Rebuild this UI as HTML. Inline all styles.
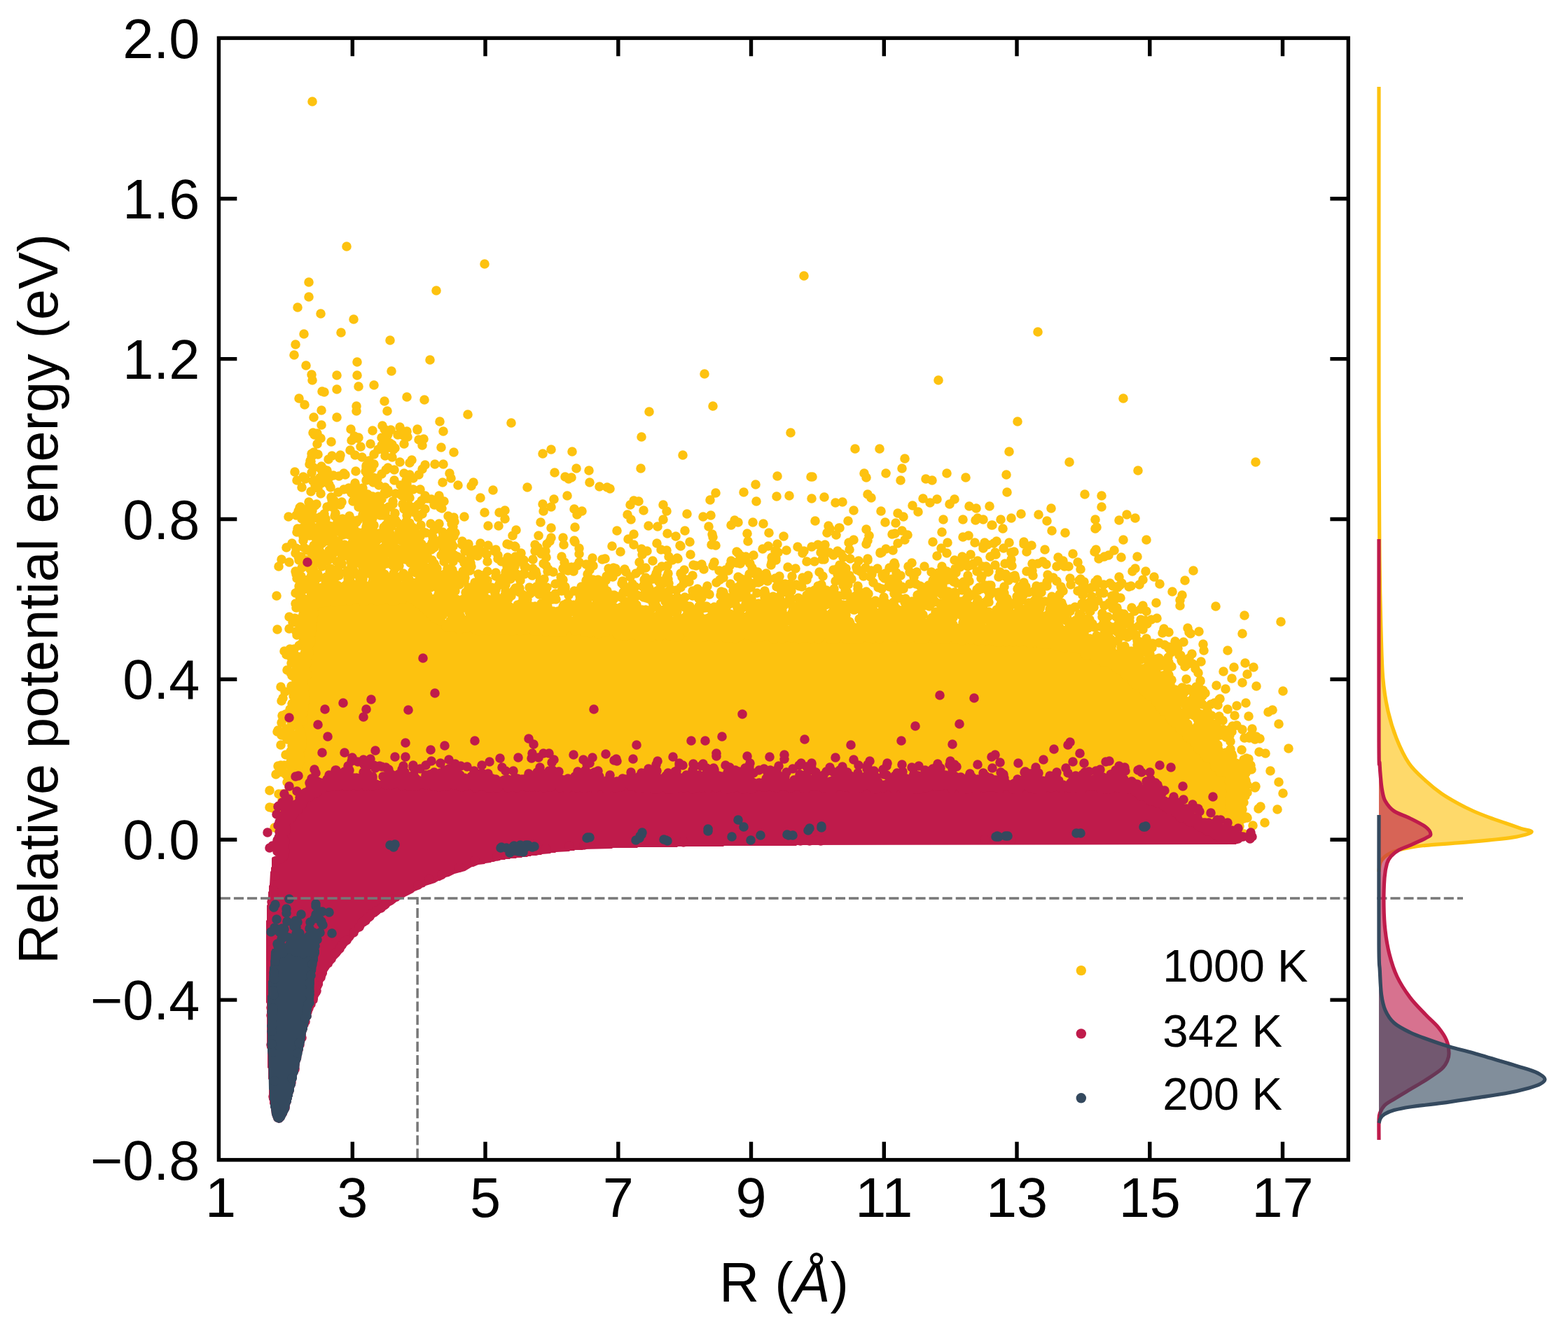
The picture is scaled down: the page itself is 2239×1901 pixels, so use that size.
<!DOCTYPE html>
<html lang="en"><head><meta charset="utf-8"><title>Relative potential energy vs R</title>
<style>html,body{margin:0;padding:0;background:#fff}svg{display:block}text{font-family:'Liberation Sans', sans-serif;fill:#000}</style></head><body>
<svg width="2239" height="1901" viewBox="0 0 2239 1901" role="img" aria-label="Scatter plot of relative potential energy versus distance R at 1000 K, 342 K and 200 K with marginal density curves">
<rect width="2239" height="1901" fill="#fff"/>
<g fill="#FDC20F" stroke="#FDC20F" stroke-width="13.6" stroke-linecap="round" stroke-linejoin="round">
<path stroke="none" d="M442 867 442 870 441 871 441 878 440 879 440 885 439 886 439 892 438 893 438 899 437 900 437 905 436 906 435 926 434 927 434 935 433 936 433 944 432 945 432 956 431 957 431 965 430 966 430 976 429 977 429 987 428 988 428 1002 427 1003 427 1017 426 1018 426 1031 425 1032 425 1040 424 1041 424 1057 423 1058 423 1066 422 1067 422 1084 421 1085 421 1093 420 1094 420 1102 419 1103 419 1117 418 1118 418 1126 417 1127 417 1134 416 1135 415 1150 414 1151 413 1159 412 1160 412 1166 410 1171 409 1187 408 1188 408 1200 409 1202 411 1202 412 1203 1757 1203 1758 1202 1760 1202 1761 1200 1761 1162 1762 1161 1762 1151 1763 1150 1763 1142 1764 1141 1764 1134 1765 1133 1765 1128 1766 1127 1766 1125 1762 1117 1756 1110 1753 1104 1748 1099 1748 1098 1724 1073 1724 1072 1715 1063 1715 1062 1701 1049 1697 1043 1684 1030 1684 1029 1667 1011 1667 1010 1644 987 1643 987 1631 975 1621 968 1614 961 1608 958 1597 949 1582 940 1580 940 1569 934 1567 934 1564 932 1562 932 1559 930 1552 928 1547 925 1545 925 1544 924 1539 923 1536 921 1530 920 1523 917 1519 917 1518 916 1514 916 1513 915 1504 914 1503 913 1484 912 1483 911 1456 910 1455 909 1424 909 1423 908 1346 907 1345 906 1281 906 1280 905 1186 905 1185 904 976 904 975 903 927 903 926 902 907 902 906 901 900 901 899 900 888 900 887 899 883 899 882 898 853 897 852 896 827 896 826 895 760 895 759 894 708 894 707 893 678 893 677 892 666 892 665 891 648 890 647 889 643 889 636 885 631 884 619 872 612 868 605 861 601 855 599 855 595 853 591 853 590 852 584 852 583 851 528 850 527 851 485 851 484 852 466 852 465 853 457 853 450 856 446 860 445 860 444 864Z"/>
<path fill="none" d="M398 809h0m-3 42h0m1 48h0m1 144h0m-1 2h0m1 49h0m2 5h0m-5 7h0m-9 23h0m13 5h0m-13 19h0m4 1h0m3 1h0m7 22h0m-7 5h0m2 0h0m31 -743h0m9 38h0m-12 15h0m-2 15h0m17 15h0m-10 47h0m8 9h0m-14 96h0m12 7h0m3 3h0m-12 2h0m7 10h0m-2 28h0m-1 1h0m-2 5h0m13 0h0m-1 2h0m1 1h0m-16 3h0m13 1h0m-24 1h0m19 1h0m0 2h0m7 5h0m-2 3h0m-11 6h0m4 0h0m4 0h0m1 0h0m-10 5h0m9 6h0m0 6h0m-16 4h0m-8 6h0m25 0h0m-11 1h0m16 2h0m0 1h0m-17 4h0m4 5h0m4 0h0m-28 4h0m25 1h0m8 0h0m2 0h0m1 0h0m-4 2h0m-21 1h0m25 1h0m-4 3h0m-2 2h0m7 0h0m-7 1h0m-1 1h0m-9 5h0m1 4h0m7 3h0m-6 3h0m3 2h0m9 6h0m-7 1h0m8 1h0m-10 1h0m9 3h0m-9 1h0m12 0h0m-5 1h0m-12 5h0m6 4h0m0 1h0m4 2h0m3 4h0m-13 4h0m7 0h0m-5 3h0m7 2h0m-8 1h0m15 2h0m-2 1h0m-3 1h0m0 5h0m5 3h0m1 0h0m-26 1h0m8 2h0m3 1h0m6 2h0m4 0h0m-2 2h0m-14 1h0m7 0h0m8 1h0m1 0h0m3 0h0m-9 5h0m4 0h0m1 0h0m1 0h0m3 0h0m2 0h0m-8 1h0m-18 2h0m13 3h0m1 0h0m-4 1h0m15 1h0m-14 4h0m11 0h0m1 7h0m-3 2h0m4 3h0m-7 1h0m2 1h0m-5 1h0m6 1h0m2 2h0m-21 2h0m6 0h0m17 0h0m-19 1h0m-12 2h0m13 1h0m17 0h0m-18 2h0m17 0h0m-26 2h0m26 0h0m4 1h0m-20 1h0m7 1h0m9 0h0m4 0h0m-23 1h0m4 1h0m16 1h0m-2 1h0m-4 1h0m-4 1h0m9 0h0m-9 1h0m-2 1h0m15 0h0m-23 1h0m15 2h0m1 0h0m1 0h0m4 1h0m-11 1h0m7 3h0m-10 1h0m6 0h0m-5 1h0m-14 1h0m21 2h0m5 0h0m-6 1h0m-15 1h0m7 0h0m15 3h0m2 0h0m-22 1h0m8 0h0m4 0h0m4 0h0m2 1h0m-4 1h0m-9 2h0m2 4h0m9 1h0m-4 1h0m2 2h0m-8 2h0m-7 1h0m6 0h0m9 0h0m-30 1h0m33 0h0m-8 1h0m8 1h0m1 0h0m-9 2h0m-19 3h0m12 0h0m15 0h0m-8 1h0m2 0h0m4 1h0m-12 1h0m15 1h0m-2 1h0m-14 1h0m-15 3h0m26 0h0m5 0h0m-1 1h0m-1 2h0m-31 1h0m33 1h0m-12 1h0m-1 1h0m-5 1h0m4 3h0m11 1h0m2 0h0m-10 2h0m10 0h0m-20 2h0m4 0h0m16 0h0m-7 1h0m-13 3h0m19 1h0m-25 2h0m4 0h0m1 1h0m2 0h0m11 0h0m-23 1h0m22 0h0m-17 1h0m19 1h0m-1 1h0m-8 1h0m-14 1h0m22 0h0m3 1h0m-3 1h0m6 1h0m1 0h0m-17 1h0m-14 1h0m21 0h0m4 0h0m-10 4h0m5 0h0m-13 5h0m5 1h0m14 1h0m1 3h0m1 3h0m-28 1h0m8 0h0m11 0h0m4 2h0m1 1h0m-8 1h0m13 0h0m-9 1h0m-12 1h0m17 0h0m-2 1h0m3 0h0m-12 1h0m11 0h0m-1 1h0m5 0h0m-6 2h0m-24 3h0m16 1h0m14 0h0m-5 1h0m0 1h0m1 0h0m3 1h0m-2 1h0m-1 2h0m0 1h0m-12 1h0m12 3h0m-3 1h0m-16 1h0m20 0h0m-9 4h0m8 0h0m-7 1h0m2 0h0m5 1h0m-11 2h0m8 0h0m2 0h0m3 0h0m-11 1h0m-3 1h0m6 0h0m-1 1h0m-5 1h0m6 2h0m3 0h0m-23 1h0m5 0h0m20 0h0m-3 2h0m2 0h0m-23 1h0m18 0h0m3 1h0m-1 1h0m-6 3h0m2 0h0m0 1h0m6 0h0m2 0h0m-23 1h0m16 0h0m2 0h0m-15 1h0m10 0h0m7 1h0m-6 1h0m-8 1h0m13 0h0m4 1h0m-7 2h0m2 1h0m0 1h0m6 1h0m-12 1h0m5 0h0m-7 2h0m10 0h0m-13 1h0m11 3h0m-8 4h0m3 1h0m3 3h0m-1 1h0m2 0h0m3 0h0m1 1h0m-2 1h0m2 2h0m-22 1h0m3 0h0m15 2h0m-6 1h0m6 0h0m3 0h0m-7 2h0m2 1h0m-5 1h0m9 0h0m2 0h0m-21 2h0m13 0h0m-13 2h0m8 0h0m5 0h0m-12 3h0m10 0h0m1 0h0m0 3h0m7 0h0m-13 1h0m-8 2h0m5 0h0m4 0h0m9 0h0m-13 1h0m13 0h0m2 1h0m-17 2h0m12 1h0m-12 2h0m-4 1h0m18 1h0m-11 1h0m1 0h0m9 1h0m-7 1h0m7 0h0m-1 3h0m-12 2h0m8 1h0m-12 1h0m7 0h0m-7 3h0m1 8h0m-1 3h0m6 1h0m40 -1043h0m-5 258h0m0 21h0m17 24h0m-13 87h0m1 8h0m14 16h0m3 1h0m-4 26h0m-11 10h0m11 11h0m-12 11h0m6 1h0m-4 2h0m9 5h0m15 5h0m-20 3h0m-5 12h0m-3 2h0m9 1h0m20 2h0m-29 1h0m24 4h0m-26 2h0m1 1h0m-2 4h0m17 3h0m-11 2h0m14 2h0m-3 1h0m8 1h0m-2 2h0m-20 1h0m21 0h0m10 4h0m-19 3h0m13 0h0m-12 1h0m2 1h0m-9 2h0m-4 1h0m12 3h0m11 2h0m-20 1h0m22 3h0m-18 1h0m-10 5h0m14 3h0m15 5h0m1 4h0m3 1h0m-36 2h0m3 3h0m8 0h0m21 1h0m-23 1h0m17 2h0m9 1h0m-36 1h0m5 0h0m1 3h0m33 4h0m-16 1h0m15 3h0m-20 1h0m-15 2h0m9 0h0m6 1h0m3 0h0m4 0h0m0 5h0m-22 1h0m15 1h0m9 3h0m1 0h0m2 0h0m-9 1h0m13 0h0m-24 2h0m9 0h0m20 1h0m-27 2h0m12 0h0m9 0h0m-30 1h0m8 2h0m24 0h0m1 2h0m-22 1h0m-12 2h0m4 0h0m26 1h0m-9 3h0m-11 3h0m27 0h0m-10 1h0m8 0h0m-20 1h0m17 0h0m-14 2h0m16 1h0m2 0h0m-30 2h0m30 0h0m-25 1h0m3 0h0m21 3h0m-32 1h0m30 0h0m-23 2h0m18 0h0m-26 1h0m7 1h0m6 0h0m-8 1h0m21 0h0m6 1h0m-30 2h0m17 0h0m-4 1h0m8 0h0m-11 1h0m17 3h0m-13 1h0m-12 1h0m14 0h0m2 0h0m6 0h0m-24 2h0m20 0h0m-20 3h0m4 1h0m10 2h0m0 2h0m-19 1h0m31 2h0m-29 1h0m5 2h0m0 1h0m23 0h0m1 0h0m-1 3h0m-26 1h0m9 0h0m-6 2h0m29 0h0m-6 1h0m-27 1h0m5 0h0m5 0h0m12 0h0m7 1h0m-25 1h0m5 0h0m-13 2h0m36 0h0m-10 1h0m-1 1h0m3 2h0m0 1h0m-26 1h0m9 3h0m-2 1h0m-3 1h0m14 0h0m6 0h0m13 0h0m-35 1h0m15 0h0m2 1h0m-16 2h0m27 0h0m-23 1h0m12 1h0m-10 1h0m16 0h0m5 1h0m-16 1h0m-10 1h0m2 0h0m8 0h0m19 0h0m1 1h0m-32 1h0m5 0h0m18 0h0m-23 1h0m5 0h0m4 0h0m-5 1h0m3 0h0m3 0h0m17 1h0m-9 1h0m11 0h0m5 0h0m-16 1h0m10 1h0m-3 1h0m5 0h0m-33 1h0m13 0h0m-1 1h0m14 0h0m10 0h0m-26 1h0m3 0h0m6 0h0m-8 1h0m-4 5h0m0 2h0m-8 1h0m6 2h0m-6 1h0m6 1h0m2 3h0m-6 1h0m-2 4h0m2 0h0m1 1h0m-2 1h0m3 1h0m0 1h0m2 0h0m1 0h0m-1 5h0m-6 3h0m5 0h0m-4 3h0m5 1h0m-2 5h0m-1 1h0m1 2h0m-3 4h0m0 2h0m-1 1h0m4 1h0m-3 1h0m2 0h0m1 0h0m-1 1h0m1 0h0m-3 5h0m0 11h0m54 -580h0m10 104h0m-18 19h0m23 42h0m-29 19h0m29 0h0m2 16h0m-31 4h0m28 24h0m0 7h0m-28 9h0m20 17h0m5 10h0m6 2h0m-1 1h0m-9 3h0m13 9h0m-15 5h0m-14 7h0m21 0h0m10 3h0m-32 1h0m23 19h0m-17 3h0m2 2h0m-9 2h0m23 10h0m1 4h0m-10 3h0m20 0h0m-27 2h0m10 3h0m-18 1h0m25 0h0m-6 1h0m10 0h0m1 0h0m-7 3h0m0 2h0m10 1h0m0 2h0m-12 4h0m-16 1h0m23 1h0m-25 3h0m26 3h0m4 0h0m2 11h0m-19 2h0m-10 4h0m0 1h0m12 0h0m10 1h0m-29 1h0m14 0h0m10 0h0m3 2h0m-27 1h0m5 0h0m3 0h0m16 0h0m-18 1h0m13 1h0m-13 5h0m4 0h0m-2 2h0m16 0h0m-24 3h0m16 1h0m15 1h0m-1 1h0m-19 1h0m9 0h0m2 0h0m-15 1h0m10 0h0m9 1h0m6 0h0m1 2h0m-10 1h0m11 0h0m-11 1h0m6 0h0m6 2h0m-34 2h0m25 1h0m1 0h0m-6 1h0m-22 1h0m2 1h0m9 1h0m26 0h0m-35 1h0m33 3h0m-29 1h0m12 0h0m14 0h0m-19 1h0m17 1h0m1 0h0m5 0h0m-31 1h0m16 0h0m13 0h0m-7 1h0m-17 1h0m27 0h0m-30 1h0m26 0h0m-19 1h0m2 0h0m14 0h0m-13 1h0m3 0h0m12 0h0m-25 1h0m26 0h0m-20 1h0m15 0h0m-17 1h0m5 0h0m1 1h0m15 0h0m-5 1h0m1 2h0m4 1h0m-32 3h0m20 0h0m6 1h0m-21 1h0m24 0h0m-22 1h0m-1 1h0m15 1h0m16 4h0m-36 2h0m14 2h0m9 0h0m-20 3h0m0 2h0m23 0h0m6 0h0m-30 2h0m14 0h0m-17 1h0m16 3h0m17 1h0m4 0h0m-18 3h0m-4 3h0m12 2h0m-26 1h0m16 0h0m3 0h0m-9 1h0m2 0h0m18 0h0m-10 1h0m-4 1h0m0 1h0m5 0h0m-19 2h0m12 0h0m20 0h0m-20 1h0m21 0h0m-7 1h0m8 0h0m-16 1h0m-21 2h0m36 0h0m-36 1h0m-1 1h0m17 0h0m17 0h0m-33 1h0m15 0h0m4 0h0m4 0h0m-14 1h0m2 0h0m8 0h0m3 0h0m-13 1h0m7 0h0m17 1h0m-12 1h0m1 0h0m2 0h0m-7 1h0m1 0h0m13 0h0m-25 1h0m2 0h0m5 0h0m8 0h0m2 0h0m11 0h0m-29 1h0m-1 1h0m6 0h0m8 0h0m-19 1h0m38 0h0m39 -373h0m2 44h0m-25 20h0m15 23h0m4 14h0m-7 21h0m3 5h0m9 1h0m-26 1h0m22 5h0m-1 2h0m-8 3h0m7 4h0m5 4h0m-28 1h0m16 2h0m9 3h0m-14 3h0m9 1h0m-15 6h0m16 2h0m-23 7h0m7 5h0m-11 2h0m0 2h0m31 1h0m-23 1h0m20 2h0m-29 2h0m2 3h0m21 1h0m-15 5h0m3 0h0m6 1h0m-16 3h0m10 1h0m0 2h0m8 4h0m9 3h0m4 4h0m-5 4h0m5 0h0m-29 2h0m25 0h0m-18 3h0m8 0h0m4 4h0m1 0h0m-25 1h0m2 4h0m3 0h0m3 0h0m10 0h0m0 5h0m-8 1h0m25 0h0m2 0h0m-14 1h0m2 0h0m3 2h0m-17 1h0m-7 1h0m-1 1h0m18 1h0m9 1h0m-7 4h0m5 0h0m-25 2h0m9 2h0m-9 1h0m32 0h0m-27 3h0m-4 3h0m29 1h0m-19 2h0m17 0h0m8 0h0m0 1h0m-36 1h0m36 0h0m-11 1h0m7 0h0m1 1h0m-25 1h0m-9 2h0m4 0h0m24 0h0m-25 3h0m9 0h0m-1 1h0m18 0h0m-10 1h0m16 0h0m-23 1h0m2 0h0m10 0h0m3 2h0m-22 1h0m4 0h0m11 0h0m4 1h0m-26 2h0m5 0h0m15 1h0m-15 1h0m14 0h0m11 0h0m-18 1h0m6 0h0m-6 2h0m-12 1h0m6 0h0m6 0h0m20 1h0m-30 2h0m10 0h0m4 0h0m-15 1h0m4 1h0m11 0h0m-3 1h0m24 0h0m-36 1h0m16 0h0m11 0h0m11 0h0m-30 1h0m6 0h0m16 0h0m-10 1h0m6 1h0m-15 2h0m-12 1h0m14 0h0m8 0h0m-7 1h0m15 0h0m-21 3h0m15 0h0m3 0h0m2 0h0m-18 2h0m-5 1h0m9 0h0m-9 1h0m9 0h0m-14 3h0m22 0h0m6 1h0m-23 4h0m1 0h0m11 1h0m14 0h0m-32 1h0m25 0h0m-18 1h0m0 2h0m5 0h0m13 0h0m-25 1h0m23 0h0m-12 1h0m2 0h0m11 1h0m-22 4h0m21 2h0m-21 1h0m2 0h0m23 0h0m-11 1h0m13 0h0m-2 1h0m-14 2h0m10 0h0m7 0h0m-2 2h0m10 0h0m-25 1h0m13 0h0m2 1h0m-11 2h0m-5 2h0m4 0h0m10 0h0m11 0h0m-9 3h0m-15 1h0m10 0h0m13 0h0m-7 1h0m-26 1h0m6 0h0m19 0h0m-17 1h0m22 0h0m-24 1h0m0 3h0m10 0h0m-13 1h0m15 0h0m-2 1h0m20 0h0m-36 1h0m9 0h0m9 0h0m12 0h0m-23 1h0m-6 1h0m4 0h0m5 0h0m3 1h0m1 0h0m21 0h0m-16 1h0m-12 1h0m1 0h0m1 0h0m0 1h0m3 0h0m4 0h0m1 0h0m-3 1h0m1 0h0m-18 1h0m5 0h0m1 0h0m33 0h0m-21 1h0m3 1h0m2 0h0m7 0h0m-18 1h0m5 0h0m9 1h0m-24 1h0m16 0h0m21 0h0m22 -291h0m-10 43h0m25 3h0m0 1h0m-15 2h0m-6 4h0m-7 1h0m8 1h0m6 2h0m16 4h0m-21 6h0m-17 1h0m4 5h0m-2 2h0m-2 11h0m28 4h0m-17 3h0m14 1h0m-22 10h0m14 5h0m8 2h0m13 0h0m-8 5h0m-27 3h0m17 0h0m1 5h0m-9 2h0m18 6h0m-11 1h0m-2 1h0m1 0h0m3 2h0m-8 1h0m-8 1h0m9 3h0m7 1h0m4 2h0m-24 5h0m0 4h0m14 0h0m23 0h0m-14 2h0m12 0h0m-14 1h0m-3 1h0m3 0h0m8 1h0m-13 2h0m6 5h0m9 0h0m-28 1h0m17 3h0m16 3h0m-32 4h0m15 2h0m-12 2h0m17 0h0m0 3h0m-7 1h0m-2 1h0m10 0h0m3 1h0m-15 4h0m-4 2h0m13 1h0m10 0h0m-3 3h0m-9 1h0m11 0h0m6 0h0m-31 2h0m27 0h0m-34 1h0m9 0h0m-8 3h0m26 0h0m1 1h0m-15 1h0m-13 1h0m20 0h0m5 2h0m7 0h0m-30 1h0m17 1h0m-19 1h0m2 0h0m0 1h0m36 1h0m-10 1h0m-11 1h0m1 0h0m10 0h0m-1 1h0m12 0h0m-32 1h0m25 0h0m-26 1h0m31 0h0m-34 1h0m12 0h0m11 0h0m-26 2h0m12 0h0m25 0h0m-15 2h0m-5 2h0m-4 2h0m11 1h0m-23 2h0m30 0h0m-27 1h0m15 1h0m7 0h0m11 0h0m-29 2h0m26 0h0m-32 1h0m34 0h0m-10 2h0m9 2h0m-34 2h0m9 0h0m-6 4h0m31 1h0m2 0h0m-8 3h0m5 2h0m1 0h0m-33 1h0m14 0h0m2 3h0m-10 2h0m0 2h0m-4 1h0m20 0h0m15 0h0m-19 3h0m9 2h0m-6 2h0m6 1h0m1 0h0m3 0h0m-1 1h0m-27 1h0m7 0h0m3 0h0m3 0h0m15 0h0m2 1h0m-13 1h0m1 0h0m10 2h0m-21 1h0m2 0h0m8 0h0m-13 1h0m2 0h0m3 0h0m10 0h0m8 0h0m-28 1h0m3 0h0m12 0h0m13 1h0m4 1h0m-32 1h0m1 0h0m1 0h0m13 0h0m7 0h0m-26 2h0m23 0h0m4 0h0m6 0h0m-12 1h0m-7 1h0m19 0h0m-12 1h0m1 0h0m-4 1h0m-11 2h0m8 0h0m12 0h0m1 0h0m9 0h0m-30 1h0m8 0h0m17 1h0m-28 1h0m31 1h0m3 3h0m25 -447h0m-9 99h0m-8 57h0m22 31h0m5 14h0m-28 11h0m-2 9h0m27 3h0m-9 24h0m12 0h0m-26 1h0m-4 6h0m29 19h0m-32 10h0m7 9h0m20 0h0m-17 4h0m6 1h0m-14 2h0m21 0h0m11 1h0m-2 1h0m-12 4h0m1 0h0m8 4h0m2 1h0m-24 1h0m-4 7h0m12 14h0m12 0h0m-26 2h0m20 5h0m-1 2h0m-15 3h0m27 0h0m-24 1h0m-8 5h0m18 1h0m14 1h0m-8 5h0m6 0h0m1 0h0m-4 1h0m-10 1h0m-15 2h0m34 0h0m-13 1h0m-9 2h0m2 1h0m1 0h0m-13 1h0m6 0h0m10 0h0m15 0h0m-32 2h0m13 1h0m17 1h0m-30 2h0m-3 2h0m32 2h0m-23 1h0m21 0h0m-19 3h0m-11 2h0m8 0h0m-2 1h0m-5 1h0m16 0h0m17 2h0m-16 2h0m-15 1h0m17 0h0m-19 1h0m20 1h0m-15 2h0m11 0h0m5 2h0m2 1h0m15 0h0m-29 2h0m-9 2h0m7 0h0m1 0h0m10 0h0m3 0h0m-10 3h0m2 0h0m11 0h0m10 1h0m-20 1h0m22 0h0m-34 1h0m10 0h0m4 0h0m-11 1h0m-3 1h0m6 0h0m5 0h0m5 1h0m20 0h0m-29 2h0m20 0h0m-4 2h0m-23 3h0m2 0h0m30 0h0m-10 1h0m3 1h0m-23 1h0m14 0h0m19 0h0m-5 2h0m-18 2h0m10 1h0m-19 1h0m2 1h0m19 0h0m3 0h0m-24 2h0m-5 1h0m1 0h0m36 2h0m0 1h0m-12 1h0m-25 1h0m10 0h0m-6 3h0m-1 2h0m17 0h0m-13 1h0m7 0h0m16 0h0m-27 1h0m5 0h0m16 0h0m-7 1h0m10 0h0m-3 2h0m6 0h0m-1 1h0m9 0h0m-37 3h0m24 0h0m-18 1h0m2 0h0m26 0h0m-1 1h0m-29 1h0m-1 1h0m3 0h0m3 1h0m6 0h0m4 0h0m15 0h0m-21 1h0m9 0h0m-14 1h0m11 0h0m1 0h0m-9 1h0m-3 1h0m1 0h0m8 0h0m-4 1h0m3 1h0m6 0h0m4 0h0m7 0h0m-10 1h0m-10 1h0m3 1h0m14 1h0m-8 1h0m-3 1h0m2 0h0m-3 2h0m3 1h0m2 0h0m4 3h0m9 5h0m-1 3h0m31 -303h0m-20 54h0m-6 30h0m2 7h0m32 6h0m-22 4h0m19 1h0m-33 43h0m23 1h0m-15 1h0m-5 2h0m2 0h0m4 4h0m-4 3h0m2 4h0m-3 7h0m6 2h0m-2 5h0m-8 3h0m20 4h0m-15 3h0m24 1h0m-9 1h0m-13 2h0m25 5h0m0 1h0m-32 1h0m24 0h0m-19 2h0m4 4h0m4 2h0m19 1h0m-30 2h0m17 0h0m-12 4h0m16 2h0m9 0h0m-5 2h0m6 3h0m-31 5h0m4 0h0m17 1h0m8 0h0m-10 1h0m2 0h0m3 0h0m-16 5h0m-10 1h0m22 1h0m2 2h0m-12 1h0m7 3h0m-10 1h0m14 0h0m-11 1h0m26 1h0m-32 2h0m10 1h0m-3 1h0m-8 3h0m24 0h0m10 1h0m-31 4h0m2 0h0m25 0h0m-10 2h0m13 4h0m-11 3h0m-22 1h0m23 1h0m-16 1h0m9 0h0m1 0h0m-1 1h0m13 1h0m-22 2h0m24 0h0m-36 1h0m2 0h0m-2 1h0m8 1h0m28 0h0m-23 1h0m10 0h0m1 1h0m5 1h0m10 0h0m-18 1h0m1 0h0m-3 2h0m-11 1h0m30 0h0m-35 1h0m11 2h0m16 0h0m-17 1h0m17 0h0m-14 1h0m-11 3h0m5 0h0m26 0h0m-30 1h0m32 0h0m-4 1h0m-27 1h0m4 0h0m7 0h0m12 2h0m7 0h0m-28 3h0m7 0h0m17 0h0m-30 1h0m10 1h0m2 1h0m23 0h0m-28 1h0m13 0h0m7 0h0m6 1h0m-19 1h0m1 0h0m-6 1h0m11 0h0m2 0h0m-4 1h0m14 0h0m-33 2h0m7 0h0m10 0h0m19 0h0m-23 1h0m10 0h0m1 0h0m-10 2h0m23 0h0m13 -522h0m12 323h0m-18 11h0m6 21h0m21 0h0m-16 19h0m15 0h0m-26 25h0m11 3h0m-17 6h0m28 0h0m-2 2h0m-16 1h0m5 4h0m-13 1h0m29 0h0m-29 1h0m29 4h0m-15 4h0m20 0h0m-20 14h0m12 2h0m-25 2h0m5 2h0m20 1h0m-22 1h0m-2 4h0m12 1h0m18 2h0m-33 1h0m9 0h0m-10 1h0m5 0h0m2 2h0m5 1h0m20 0h0m-31 2h0m6 0h0m15 1h0m-4 1h0m-2 1h0m12 1h0m-3 1h0m2 2h0m-25 3h0m25 0h0m-16 2h0m-1 3h0m1 1h0m16 0h0m8 1h0m-28 1h0m3 0h0m7 0h0m-12 1h0m2 0h0m8 0h0m3 0h0m0 2h0m-13 1h0m17 1h0m14 0h0m-1 1h0m-32 1h0m10 0h0m21 1h0m-19 1h0m7 0h0m9 0h0m5 0h0m-36 2h0m8 0h0m21 0h0m-1 1h0m-14 1h0m20 0h0m-17 1h0m13 0h0m-6 1h0m11 1h0m-28 1h0m3 0h0m29 0h0m-14 1h0m2 0h0m-16 3h0m1 0h0m-3 3h0m19 0h0m-25 1h0m11 0h0m-13 1h0m4 0h0m4 1h0m24 0h0m5 0h0m-16 1h0m-17 1h0m28 0h0m-1 1h0m-31 1h0m30 0h0m-19 1h0m27 0h0m-21 1h0m4 1h0m17 0h0m-34 1h0m18 0h0m7 0h0m6 0h0m-23 1h0m12 0h0m-6 1h0m4 0h0m-6 1h0m11 0h0m-27 1h0m9 0h0m2 0h0m-12 1h0m33 0h0m-21 1h0m12 0h0m2 0h0m9 0h0m1 0h0m-27 1h0m13 0h0m-21 1h0m19 0h0m3 0h0m-12 1h0m13 0h0m11 0h0m2 0h0m2 0h0m-35 1h0m16 0h0m30 -297h0m23 92h0m-32 33h0m0 12h0m16 16h0m-5 8h0m-8 12h0m3 1h0m8 2h0m1 1h0m8 9h0m-8 5h0m-11 1h0m13 1h0m0 1h0m-2 1h0m-5 1h0m17 0h0m-5 2h0m-13 1h0m-6 6h0m11 0h0m14 0h0m2 1h0m-26 3h0m4 1h0m-7 3h0m5 2h0m21 0h0m-11 1h0m1 0h0m11 0h0m-24 2h0m-5 2h0m21 1h0m2 1h0m-14 1h0m14 2h0m-21 6h0m18 4h0m16 0h0m-20 1h0m6 0h0m-8 3h0m3 0h0m-15 1h0m20 2h0m15 2h0m-11 1h0m-25 1h0m3 0h0m2 0h0m4 1h0m-7 1h0m28 0h0m-26 1h0m0 1h0m22 0h0m2 0h0m-25 1h0m2 0h0m27 1h0m-8 5h0m0 1h0m-3 1h0m-3 1h0m-19 1h0m26 0h0m-19 1h0m12 0h0m19 0h0m-12 1h0m8 0h0m-8 2h0m-23 1h0m29 0h0m-32 3h0m16 0h0m-9 2h0m11 0h0m17 0h0m-24 1h0m-1 1h0m15 0h0m-22 1h0m21 1h0m-18 1h0m11 1h0m17 0h0m-5 1h0m9 0h0m-21 1h0m15 0h0m-5 1h0m-21 1h0m23 0h0m-16 1h0m-9 1h0m23 0h0m12 1h0m-19 1h0m3 0h0m-10 2h0m4 0h0m14 0h0m7 0h0m-33 1h0m8 0h0m9 0h0m-11 1h0m1 0h0m16 0h0m8 0h0m3 0h0m-26 1h0m3 0h0m7 0h0m14 0h0m-25 1h0m2 0h0m-12 1h0m1 0h0m14 0h0m16 0h0m-11 1h0m-14 1h0m25 0h0m-27 1h0m20 0h0m-16 1h0m21 0h0m-21 1h0m3 0h0m10 0h0m44 -259h0m-12 6h0m17 27h0m-1 38h0m-16 7h0m12 4h0m-11 6h0m-4 16h0m15 8h0m-18 11h0m18 3h0m-2 5h0m-4 4h0m-17 1h0m4 4h0m-4 5h0m15 0h0m-6 4h0m7 5h0m-19 3h0m15 6h0m4 3h0m-19 4h0m22 1h0m-18 3h0m17 0h0m8 1h0m-29 3h0m5 0h0m-6 2h0m17 5h0m-6 3h0m22 4h0m-18 1h0m-9 3h0m10 1h0m1 0h0m4 0h0m-11 2h0m5 0h0m-10 4h0m14 0h0m0 3h0m14 0h0m-23 1h0m11 1h0m1 0h0m-1 3h0m8 3h0m5 0h0m-15 1h0m6 0h0m-3 2h0m-9 3h0m7 3h0m1 0h0m-17 1h0m18 0h0m-13 1h0m1 4h0m14 1h0m-15 1h0m21 0h0m7 0h0m-34 1h0m3 0h0m11 0h0m4 1h0m-7 1h0m2 0h0m2 0h0m5 1h0m14 0h0m-22 1h0m23 0h0m-37 1h0m9 0h0m28 0h0m-33 1h0m9 0h0m19 0h0m-17 1h0m13 0h0m-4 2h0m-5 1h0m2 0h0m-15 1h0m21 0h0m-17 1h0m-9 1h0m14 1h0m-14 1h0m11 0h0m19 0h0m-30 1h0m2 1h0m19 0h0m-13 3h0m5 0h0m18 0h0m-22 3h0m11 0h0m-4 1h0m5 0h0m10 0h0m-33 1h0m8 0h0m30 0h0m-37 1h0m19 0h0m-18 1h0m2 0h0m4 0h0m11 1h0m1 0h0m7 0h0m6 0h0m3 0h0m21 -257h0m6 24h0m-16 12h0m9 1h0m-4 2h0m-2 24h0m10 19h0m11 3h0m-7 5h0m-3 18h0m-17 15h0m16 4h0m1 2h0m-16 4h0m22 5h0m0 8h0m-25 4h0m4 8h0m21 0h0m10 3h0m-13 2h0m-8 2h0m-12 2h0m7 3h0m8 1h0m20 4h0m-38 4h0m3 4h0m-3 1h0m36 0h0m1 0h0m-36 6h0m5 3h0m23 0h0m-23 2h0m-5 4h0m18 0h0m15 1h0m-5 3h0m-18 2h0m16 1h0m3 1h0m-1 1h0m9 3h0m-11 1h0m5 0h0m-6 3h0m2 0h0m-18 1h0m-2 1h0m28 0h0m-32 2h0m10 0h0m4 0h0m-15 2h0m1 0h0m4 0h0m10 1h0m3 0h0m-9 1h0m19 1h0m-27 1h0m22 0h0m-21 1h0m7 0h0m24 0h0m-37 1h0m11 0h0m5 0h0m11 0h0m-22 1h0m13 0h0m5 0h0m-10 1h0m12 0h0m-22 1h0m10 0h0m17 0h0m-3 2h0m10 2h0m-32 1h0m22 0h0m1 0h0m9 2h0m2 1h0m-38 1h0m22 0h0m2 0h0m-14 1h0m22 0h0m-29 1h0m-1 1h0m12 0h0m7 0h0m1 0h0m-16 1h0m32 0h0m-18 1h0m7 1h0m-26 2h0m16 0h0m9 0h0m9 0h0m-26 1h0m-6 1h0m7 0h0m6 0h0m-8 2h0m1 0h0m17 0h0m-24 1h0m17 0h0m15 0h0m-34 2h0m5 0h0m29 0h0m-6 1h0m-8 1h0m12 1h0m-29 1h0m30 0h0m3 0h0m4 -231h0m1 17h0m14 6h0m11 1h0m4 2h0m3 82h0m-28 17h0m18 1h0m-4 1h0m-13 9h0m29 3h0m-7 1h0m10 0h0m-37 2h0m31 7h0m-7 2h0m9 1h0m-28 4h0m7 0h0m11 1h0m-3 8h0m-13 1h0m1 0h0m-8 1h0m6 5h0m19 0h0m-14 1h0m-1 3h0m10 0h0m-5 1h0m7 0h0m9 1h0m4 0h0m-30 1h0m6 0h0m23 0h0m-36 1h0m34 0h0m-16 1h0m12 0h0m-7 1h0m-11 2h0m23 0h0m1 0h0m-3 2h0m-9 2h0m1 1h0m-11 1h0m4 0h0m6 0h0m-6 1h0m-12 3h0m16 0h0m7 0h0m-25 1h0m18 0h0m4 0h0m12 1h0m-8 2h0m-12 2h0m-7 1h0m10 0h0m-8 1h0m20 0h0m-26 1h0m23 0h0m5 0h0m-12 1h0m8 2h0m-25 1h0m2 0h0m11 0h0m-12 1h0m9 0h0m16 0h0m4 0h0m3 0h0m-32 2h0m19 0h0m-10 1h0m8 1h0m11 0h0m1 2h0m1 0h0m-27 1h0m-10 1h0m3 0h0m4 0h0m17 0h0m7 1h0m6 0h0m-36 1h0m3 0h0m10 0h0m-1 1h0m-13 1h0m23 0h0m11 0h0m-29 1h0m13 0h0m13 0h0m5 0h0m-34 1h0m18 1h0m-7 1h0m0 1h0m10 0h0m5 0h0m-28 2h0m2 0h0m16 0h0m11 0h0m7 0h0m-26 1h0m-2 1h0m9 1h0m2 0h0m6 1h0m-23 1h0m12 1h0m62 -281h0m-1 45h0m-10 46h0m7 1h0m-12 5h0m19 8h0m-23 6h0m5 7h0m-20 16h0m24 5h0m-8 7h0m8 8h0m11 6h0m-30 4h0m31 4h0m-4 11h0m-21 10h0m23 1h0m-34 3h0m13 0h0m14 2h0m-8 5h0m-11 6h0m0 2h0m-1 1h0m15 1h0m-13 1h0m29 1h0m-12 2h0m11 0h0m-18 3h0m-10 5h0m6 0h0m5 0h0m9 4h0m-26 2h0m24 0h0m-21 1h0m32 0h0m-14 4h0m-5 1h0m1 0h0m-9 1h0m13 1h0m-6 1h0m10 3h0m-22 3h0m18 1h0m-16 1h0m0 1h0m4 0h0m-12 1h0m2 0h0m1 0h0m5 0h0m28 0h0m-12 1h0m-19 1h0m23 0h0m-19 1h0m24 0h0m1 0h0m-27 1h0m-7 1h0m3 0h0m2 0h0m17 0h0m-3 2h0m8 2h0m-22 1h0m6 1h0m-11 1h0m9 0h0m18 0h0m4 0h0m7 0h0m-16 1h0m-15 1h0m29 0h0m2 0h0m-33 1h0m7 0h0m-4 1h0m9 0h0m11 0h0m-26 2h0m5 0h0m27 0h0m-26 1h0m18 0h0m-14 1h0m18 0h0m1 0h0m-14 1h0m13 1h0m3 0h0m-32 1h0m15 0h0m7 0h0m-22 1h0m5 0h0m28 0h0m1 0h0m-25 1h0m14 0h0m-7 1h0m-14 1h0m25 0h0m-28 3h0m1 0h0m10 0h0m-8 1h0m31 0h0m-17 1h0m-5 1h0m5 0h0m-17 1h0m1 0h0m3 0h0m18 0h0m-18 1h0m2 0h0m3 0h0m12 0h0m16 0h0m-35 1h0m14 0h0m13 0h0m2 0h0m4 0h0m-27 1h0m5 0h0m18 1h0m1 0h0m2 0h0m1 0h0m3 0h0m-3 1h0m3 0h0m8 -322h0m20 133h0m5 9h0m-5 12h0m-21 9h0m13 1h0m14 10h0m-15 14h0m6 9h0m8 1h0m-28 1h0m31 8h0m-23 6h0m21 7h0m-8 1h0m-23 2h0m17 3h0m-2 5h0m17 0h0m-16 1h0m-3 4h0m17 0h0m-30 1h0m10 2h0m22 0h0m-34 1h0m23 2h0m-19 1h0m17 0h0m14 2h0m-9 1h0m-21 1h0m2 5h0m15 1h0m-16 1h0m32 0h0m-20 2h0m7 1h0m9 0h0m-27 1h0m-6 1h0m18 0h0m-17 1h0m28 0h0m-5 1h0m-3 1h0m-13 1h0m-8 2h0m26 0h0m-24 1h0m16 0h0m18 0h0m-31 1h0m24 4h0m9 0h0m-27 1h0m25 0h0m-21 3h0m22 1h0m-20 3h0m16 0h0m-22 1h0m-10 3h0m26 0h0m-21 2h0m29 0h0m-32 1h0m24 1h0m-20 1h0m14 1h0m9 0h0m-24 1h0m14 0h0m9 0h0m-15 3h0m-8 1h0m26 0h0m1 0h0m-7 1h0m-27 1h0m1 2h0m25 0h0m10 0h0m-5 1h0m5 0h0m-28 1h0m17 0h0m-12 1h0m9 0h0m-8 2h0m8 0h0m-3 1h0m-3 1h0m3 0h0m18 0h0m-6 1h0m4 0h0m-29 2h0m32 0h0m-21 2h0m-9 1h0m26 0h0m-24 2h0m1 0h0m12 0h0m-8 1h0m11 0h0m-4 1h0m-3 1h0m-19 1h0m5 0h0m12 0h0m8 0h0m-3 1h0m4 0h0m-21 2h0m1 0h0m30 0h0m-24 1h0m10 0h0m-11 1h0m44 -260h0m6 84h0m-3 24h0m-13 8h0m20 8h0m-14 5h0m1 1h0m14 12h0m-19 5h0m1 1h0m-8 2h0m30 7h0m4 1h0m-17 6h0m-5 5h0m17 3h0m-15 2h0m2 3h0m6 1h0m2 3h0m-8 3h0m-4 5h0m24 2h0m-30 2h0m23 1h0m0 7h0m-22 2h0m11 0h0m20 2h0m-36 4h0m6 3h0m-2 1h0m10 0h0m-5 2h0m9 0h0m5 1h0m13 0h0m-33 1h0m14 1h0m9 2h0m-21 3h0m-4 1h0m35 0h0m-16 1h0m4 1h0m12 1h0m-13 2h0m-6 2h0m-10 1h0m12 0h0m4 0h0m8 0h0m-29 4h0m20 1h0m-1 1h0m13 0h0m-3 3h0m4 0h0m-25 1h0m1 0h0m3 0h0m9 0h0m-23 1h0m10 0h0m-7 1h0m32 0h0m-16 1h0m-7 1h0m10 1h0m4 0h0m-25 1h0m11 0h0m6 0h0m14 0h0m-7 1h0m5 0h0m-23 1h0m16 1h0m4 0h0m5 0h0m4 0h0m-34 1h0m22 0h0m-4 1h0m4 1h0m3 0h0m8 0h0m-35 1h0m1 0h0m32 1h0m-3 1h0m-5 1h0m5 0h0m-31 1h0m8 0h0m18 0h0m10 0h0m1 0h0m-32 1h0m20 0h0m6 0h0m14 -376h0m12 46h0m4 124h0m-8 10h0m1 22h0m-11 2h0m8 14h0m5 11h0m1 4h0m-2 11h0m6 1h0m-2 24h0m-18 3h0m16 2h0m-13 5h0m31 1h0m-9 1h0m6 10h0m-5 3h0m-5 4h0m-13 5h0m-2 5h0m22 3h0m3 1h0m-32 3h0m12 0h0m16 1h0m-29 1h0m36 1h0m-34 2h0m34 2h0m-1 1h0m-6 5h0m-23 4h0m1 0h0m2 0h0m11 1h0m17 0h0m-29 1h0m26 0h0m-33 1h0m2 0h0m12 0h0m3 0h0m2 0h0m9 0h0m-8 1h0m-5 1h0m21 0h0m-1 3h0m0 2h0m-7 2h0m-9 1h0m-20 2h0m35 0h0m-22 1h0m9 0h0m-14 2h0m2 0h0m10 0h0m4 3h0m1 0h0m4 0h0m-14 1h0m3 0h0m-13 1h0m24 0h0m-29 1h0m22 0h0m11 0h0m-22 1h0m6 0h0m6 0h0m3 0h0m-25 1h0m21 0h0m-17 2h0m22 0h0m-22 1h0m-4 1h0m17 0h0m1 0h0m5 1h0m4 0h0m-1 1h0m-10 1h0m6 0h0m-22 1h0m14 0h0m-1 1h0m6 1h0m11 0h0m1 0h0m-30 1h0m32 0h0m-23 1h0m1 0h0m10 0h0m7 0h0m-3 1h0m2 0h0m5 0h0m-31 1h0m8 2h0m2 0h0m26 0h0m-11 1h0m-21 1h0m15 1h0m15 0h0m43 -219h0m-17 11h0m-13 40h0m5 3h0m21 0h0m-31 4h0m23 12h0m1 11h0m-16 15h0m2 2h0m22 3h0m-18 1h0m7 1h0m-3 5h0m-18 1h0m10 1h0m1 1h0m-3 1h0m5 1h0m14 0h0m-29 3h0m32 3h0m-34 4h0m30 5h0m-16 4h0m3 2h0m6 2h0m6 3h0m10 1h0m-36 2h0m14 2h0m-4 3h0m14 0h0m5 0h0m-12 1h0m4 1h0m-17 2h0m5 3h0m13 1h0m-3 4h0m-16 1h0m11 1h0m3 0h0m-8 1h0m21 1h0m-2 1h0m-31 1h0m6 0h0m1 3h0m-4 1h0m27 0h0m5 0h0m-26 1h0m1 0h0m15 0h0m-24 1h0m27 0h0m8 2h0m-23 3h0m6 1h0m-5 2h0m17 0h0m1 0h0m0 1h0m-18 1h0m25 3h0m-36 1h0m28 0h0m-26 1h0m24 1h0m-10 1h0m10 0h0m-24 1h0m32 0h0m-24 1h0m9 0h0m-20 1h0m7 0h0m-5 1h0m33 0h0m-21 1h0m1 1h0m-15 1h0m3 0h0m31 0h0m-33 1h0m26 0h0m-11 1h0m7 2h0m12 0h0m-31 1h0m5 1h0m-11 1h0m9 0h0m7 0h0m10 0h0m10 0h0m-25 2h0m1 0h0m19 0h0m5 0h0m-30 1h0m8 0h0m-1 1h0m4 0h0m14 0h0m-16 1h0m20 0h0m3 0h0m-37 1h0m12 0h0m5 0h0m11 0h0m-27 1h0m5 1h0m3 0h0m1 0h0m1 0h0m16 0h0m-25 2h0m22 0h0m-14 1h0m-11 1h0m6 0h0m2 0h0m8 0h0m7 0h0m6 0h0m10 0h0m-36 1h0m9 0h0m15 0h0m-11 1h0m1 0h0m15 0h0m1 0h0m-32 1h0m1 2h0m2 0h0m33 0h0m-27 1h0m60 -232h0m-1 29h0m-29 7h0m10 32h0m8 13h0m21 5h0m-9 11h0m-13 3h0m-8 4h0m18 3h0m4 2h0m-9 7h0m6 1h0m0 3h0m-6 3h0m-1 4h0m-19 10h0m12 2h0m-14 2h0m13 1h0m2 0h0m18 1h0m-2 2h0m1 0h0m-5 1h0m-18 2h0m7 2h0m-11 1h0m-2 1h0m28 3h0m-2 3h0m-17 6h0m24 1h0m-35 2h0m12 1h0m-1 1h0m12 3h0m9 0h0m-21 1h0m8 1h0m-2 1h0m4 1h0m12 0h0m-18 3h0m7 0h0m-20 3h0m16 0h0m5 0h0m-14 2h0m0 1h0m18 0h0m8 0h0m3 0h0m-9 1h0m-5 2h0m-19 2h0m13 1h0m-19 1h0m22 0h0m15 0h0m-34 2h0m32 0h0m-24 2h0m26 0h0m1 1h0m-24 1h0m-1 1h0m7 0h0m18 0h0m-2 1h0m-29 1h0m23 0h0m-6 1h0m4 1h0m8 2h0m0 2h0m-30 1h0m5 0h0m1 0h0m2 0h0m4 0h0m-7 1h0m19 0h0m7 1h0m-4 1h0m-30 2h0m20 0h0m11 0h0m1 0h0m4 0h0m-39 1h0m13 0h0m9 0h0m1 0h0m-23 1h0m11 0h0m26 0h0m-33 1h0m13 0h0m7 0h0m14 0h0m-21 1h0m8 0h0m-17 1h0m19 0h0m-19 1h0m20 0h0m-24 2h0m2 0h0m8 0h0m-5 1h0m3 0h0m13 0h0m-23 3h0m9 0h0m7 0h0m11 0h0m-7 1h0m-19 1h0m11 0h0m4 0h0m4 0h0m6 0h0m-15 1h0m23 0h0m-29 2h0m18 0h0m11 1h0m-12 1h0m2 0h0m11 0h0m31 -518h0m-19 224h0m29 63h0m-31 27h0m32 4h0m-20 69h0m20 0h0m-36 5h0m25 1h0m-2 3h0m6 12h0m-27 8h0m11 2h0m18 10h0m-23 1h0m15 2h0m6 3h0m-31 6h0m7 0h0m9 1h0m4 2h0m4 1h0m-24 5h0m3 1h0m6 0h0m26 1h0m-33 1h0m29 4h0m-12 4h0m-10 1h0m21 0h0m-24 1h0m25 1h0m-5 2h0m-22 1h0m17 0h0m6 0h0m11 0h0m-5 1h0m-10 2h0m-3 1h0m0 1h0m-6 1h0m21 0h0m-24 1h0m24 0h0m2 1h0m-7 1h0m-6 1h0m-14 5h0m8 2h0m7 0h0m2 0h0m-17 1h0m-3 1h0m13 0h0m5 0h0m6 0h0m7 0h0m-24 2h0m17 0h0m-9 1h0m-1 3h0m9 0h0m-15 1h0m16 0h0m-29 1h0m1 0h0m15 0h0m-18 1h0m22 0h0m1 0h0m2 0h0m-14 1h0m14 1h0m-4 1h0m-8 1h0m7 1h0m3 2h0m-7 1h0m12 0h0m6 1h0m-12 1h0m-13 1h0m-6 1h0m22 0h0m-25 1h0m28 1h0m8 0h0m-30 1h0m8 0h0m23 0h0m-35 1h0m11 0h0m5 0h0m4 2h0m16 0h0m-22 1h0m15 0h0m3 0h0m0 1h0m-33 1h0m13 1h0m-6 1h0m1 0h0m16 0h0m3 0h0m-8 1h0m17 0h0m2 -231h0m17 29h0m16 8h0m-29 26h0m19 7h0m15 3h0m1 0h0m-14 1h0m-4 6h0m13 3h0m-26 14h0m10 0h0m-3 9h0m21 0h0m-20 1h0m-4 1h0m12 0h0m-10 1h0m16 3h0m-16 6h0m3 0h0m-14 3h0m36 5h0m-3 5h0m-6 2h0m-20 3h0m26 3h0m-21 3h0m18 7h0m-20 5h0m-5 2h0m5 3h0m18 1h0m-28 2h0m17 0h0m-18 2h0m13 0h0m-9 4h0m2 0h0m18 0h0m-26 2h0m38 0h0m-6 1h0m-18 2h0m7 2h0m-10 1h0m0 2h0m9 1h0m14 0h0m-27 1h0m30 0h0m-24 2h0m12 0h0m-13 1h0m7 0h0m15 0h0m-2 1h0m-23 1h0m24 1h0m-24 1h0m30 1h0m-37 1h0m12 2h0m-11 2h0m30 0h0m-23 1h0m5 0h0m-8 1h0m4 0h0m1 0h0m3 0h0m12 0h0m9 1h0m0 2h0m-16 1h0m6 0h0m2 0h0m5 0h0m-7 1h0m-21 2h0m4 0h0m7 0h0m21 0h0m-37 1h0m12 0h0m-10 1h0m27 1h0m-23 1h0m14 0h0m-9 2h0m-11 1h0m14 0h0m1 0h0m3 0h0m3 0h0m18 1h0m-33 2h0m22 0h0m5 0h0m-5 2h0m2 0h0m6 0h0m-25 1h0m2 0h0m3 1h0m-15 3h0m38 0h0m-16 1h0m8 0h0m5 0h0m-10 1h0m-16 1h0m-9 1h0m22 0h0m-22 1h0m19 0h0m19 0h0m-21 1h0m-18 1h0m29 0h0m-29 1h0m7 0h0m26 0h0m3 0h0m-36 2h0m27 0h0m1 0h0m5 0h0m0 1h0m-25 1h0m1 0h0m18 0h0m3 0h0m2 0h0m2 0h0m-8 1h0m35 -272h0m13 35h0m3 6h0m2 24h0m-36 11h0m16 12h0m-8 15h0m26 12h0m-18 15h0m20 1h0m-27 3h0m25 2h0m-24 8h0m-12 6h0m3 5h0m10 2h0m25 0h0m0 2h0m-13 1h0m-22 8h0m19 1h0m13 1h0m-28 1h0m16 2h0m4 2h0m-21 2h0m-1 2h0m7 2h0m20 1h0m-20 2h0m-12 2h0m15 0h0m-5 2h0m0 6h0m-7 1h0m3 0h0m18 1h0m0 4h0m-18 2h0m30 2h0m-27 1h0m16 0h0m-21 4h0m5 0h0m24 0h0m-12 1h0m9 1h0m0 2h0m-16 3h0m17 1h0m5 0h0m-7 1h0m-14 2h0m5 0h0m14 0h0m-4 1h0m-27 2h0m5 0h0m12 0h0m3 1h0m9 0h0m6 0h0m-18 1h0m-18 1h0m16 1h0m-12 1h0m31 0h0m-35 2h0m4 0h0m12 0h0m1 0h0m15 0h0m-4 2h0m2 0h0m0 3h0m5 0h0m-30 2h0m29 0h0m-6 2h0m-31 2h0m3 0h0m34 0h0m-29 1h0m19 1h0m-26 1h0m8 0h0m-6 2h0m33 0h0m-23 1h0m-8 2h0m9 0h0m-11 1h0m-2 1h0m28 0h0m-27 2h0m3 0h0m-1 1h0m1 0h0m6 0h0m4 0h0m-12 1h0m6 0h0m10 0h0m7 0h0m-21 1h0m14 0h0m5 0h0m7 0h0m-31 1h0m2 0h0m7 0h0m3 1h0m5 0h0m4 0h0m-17 1h0m4 0h0m3 2h0m14 0h0m-7 1h0m6 0h0m4 0h0m6 1h0m-31 1h0m32 0h0m-30 1h0m8 0h0m-13 1h0m4 0h0m11 0h0m6 0h0m15 0h0m-7 3h0m-11 1h0m-3 1h0m5 0h0m6 0h0m2 0h0m1 0h0m-20 1h0m8 0h0m10 0h0m29 -272h0m9 35h0m-21 35h0m14 19h0m6 16h0m15 1h0m-1 15h0m-4 1h0m-33 2h0m24 19h0m10 2h0m-18 3h0m2 0h0m-2 1h0m20 14h0m0 1h0m1 2h0m-8 4h0m-17 1h0m-9 3h0m1 3h0m19 1h0m-19 1h0m15 1h0m-17 3h0m18 0h0m2 2h0m11 1h0m4 4h0m-31 1h0m31 2h0m-2 1h0m-7 2h0m1 1h0m-16 1h0m19 0h0m-14 2h0m-19 7h0m37 0h0m-15 5h0m-12 5h0m-9 1h0m22 0h0m13 1h0m-23 1h0m7 0h0m6 1h0m-25 1h0m3 0h0m18 1h0m6 0h0m9 1h0m-37 2h0m24 0h0m5 1h0m-29 3h0m20 0h0m13 1h0m-25 1h0m26 1h0m2 1h0m-34 1h0m19 0h0m4 1h0m14 1h0m-30 1h0m-3 1h0m14 0h0m-13 1h0m14 1h0m5 0h0m-10 2h0m6 0h0m4 0h0m-25 2h0m31 0h0m5 0h0m-35 1h0m28 0h0m-23 2h0m15 0h0m16 0h0m-1 1h0m-27 1h0m10 0h0m10 0h0m-2 1h0m-20 1h0m9 0h0m8 0h0m7 0h0m-11 1h0m2 0h0m-20 1h0m4 0h0m3 2h0m19 0h0m-5 1h0m1 0h0m8 0h0m1 0h0m-14 1h0m7 0h0m2 0h0m-9 1h0m14 0h0m-3 3h0m-26 1h0m22 0h0m3 1h0m6 0h0m-22 1h0m1 0h0m10 0h0m11 0h0m-32 1h0m6 0h0m3 0h0m5 0h0m5 0h0m8 0h0m-25 1h0m4 0h0m2 0h0m12 0h0m3 0h0m-21 1h0m17 0h0m5 0h0m7 1h0m-35 1h0m6 1h0m10 0h0m36 -257h0m-4 14h0m-2 17h0m32 26h0m-15 10h0m8 9h0m-29 2h0m8 5h0m-2 20h0m8 6h0m-4 7h0m-10 5h0m20 28h0m-5 5h0m2 8h0m10 0h0m-29 1h0m6 4h0m19 2h0m-23 9h0m23 0h0m-6 1h0m9 0h0m6 3h0m-34 1h0m8 0h0m30 1h0m-28 2h0m-5 1h0m34 3h0m-7 4h0m-2 1h0m-27 4h0m1 0h0m35 0h0m-26 1h0m20 3h0m2 0h0m-13 1h0m-10 1h0m8 3h0m6 1h0m9 0h0m-12 1h0m-9 1h0m9 1h0m-11 2h0m2 0h0m1 0h0m3 0h0m-17 1h0m18 0h0m-19 2h0m4 0h0m6 0h0m3 2h0m-7 1h0m23 0h0m-18 1h0m24 0h0m3 2h0m-32 1h0m13 0h0m8 0h0m8 0h0m-5 3h0m-19 3h0m2 1h0m4 1h0m10 0h0m-13 1h0m17 0h0m6 0h0m-34 1h0m30 0h0m-32 1h0m20 1h0m-6 1h0m20 0h0m-16 1h0m16 0h0m-25 1h0m8 0h0m4 0h0m7 0h0m-26 1h0m21 1h0m10 0h0m-9 1h0m8 0h0m4 0h0m-34 1h0m13 0h0m19 0h0m-10 1h0m-24 1h0m13 0h0m8 0h0m-22 1h0m8 0h0m17 0h0m-16 1h0m-7 1h0m8 0h0m21 0h0m-31 1h0m24 0h0m6 0h0m-13 1h0m3 0h0m5 0h0m-9 1h0m9 0h0m-13 1h0m9 0h0m9 0h0m9 0h0m-34 1h0m14 0h0m2 0h0m-13 1h0m30 0h0m-18 1h0m-14 1h0m12 0h0m1 0h0m1 0h0m-4 1h0m17 0h0m4 0h0m-31 1h0m1 0h0m6 0h0m18 0h0m2 0h0m27 -370h0m12 133h0m-30 8h0m9 2h0m7 27h0m-10 5h0m28 2h0m-9 22h0m-2 18h0m-13 14h0m21 1h0m-9 8h0m8 7h0m-14 4h0m-18 15h0m25 0h0m7 7h0m-22 1h0m10 1h0m-5 4h0m12 0h0m-12 5h0m14 1h0m4 0h0m-21 1h0m9 0h0m5 0h0m-8 5h0m-12 2h0m20 0h0m0 2h0m-11 1h0m7 3h0m-17 2h0m16 0h0m-2 1h0m10 0h0m5 0h0m-26 1h0m4 2h0m13 1h0m7 0h0m1 1h0m2 0h0m3 0h0m-30 2h0m4 1h0m25 2h0m-28 3h0m27 0h0m-21 1h0m-9 1h0m8 0h0m-3 1h0m17 0h0m-18 1h0m12 0h0m7 0h0m-6 1h0m2 0h0m5 0h0m-30 2h0m33 0h0m-26 1h0m23 0h0m2 4h0m-3 2h0m8 1h0m-21 1h0m3 0h0m5 3h0m-4 3h0m-7 1h0m5 0h0m12 0h0m-19 1h0m16 0h0m-18 2h0m3 0h0m4 0h0m12 2h0m8 0h0m-26 1h0m4 0h0m-1 2h0m15 1h0m-22 1h0m3 0h0m7 0h0m8 0h0m8 0h0m-13 1h0m9 0h0m7 0h0m-33 1h0m-2 1h0m17 0h0m-6 1h0m12 0h0m-16 1h0m13 0h0m10 3h0m3 0h0m-28 1h0m1 0h0m26 0h0m-31 1h0m15 0h0m16 0h0m-22 2h0m1 0h0m12 0h0m4 0h0m7 0h0m4 0h0m-18 1h0m2 0h0m-9 1h0m5 0h0m8 0h0m-26 1h0m1 0h0m13 0h0m11 1h0m4 1h0m8 0h0m-34 1h0m28 0h0m-30 1h0m30 0h0m-31 1h0m25 0h0m-24 1h0m14 0h0m6 0h0m-1 1h0m8 0h0m2 0h0m1 0h0m28 -231h0m-16 31h0m21 10h0m10 3h0m2 14h0m-21 2h0m18 1h0m-10 22h0m-8 2h0m17 8h0m-6 17h0m-12 3h0m4 4h0m-15 1h0m33 1h0m-6 4h0m-20 1h0m17 1h0m-5 2h0m-11 1h0m-7 2h0m31 4h0m-30 2h0m-4 4h0m21 0h0m-19 8h0m21 0h0m-22 1h0m14 0h0m-10 2h0m12 4h0m20 2h0m-23 1h0m20 2h0m-21 1h0m23 0h0m-16 2h0m-18 1h0m1 3h0m26 0h0m-7 4h0m-2 1h0m-17 1h0m16 0h0m-15 1h0m31 0h0m-16 2h0m-7 1h0m7 1h0m-4 1h0m19 0h0m3 3h0m-32 1h0m18 0h0m-6 1h0m-14 1h0m23 0h0m-26 2h0m7 0h0m-5 1h0m7 0h0m15 2h0m-10 1h0m4 1h0m7 0h0m5 0h0m7 0h0m-37 2h0m5 0h0m8 0h0m22 0h0m-22 2h0m4 0h0m9 0h0m-14 1h0m12 0h0m0 1h0m-24 2h0m-1 1h0m19 0h0m8 0h0m8 2h0m2 3h0m-22 1h0m11 0h0m3 0h0m1 0h0m-14 1h0m6 1h0m-21 1h0m31 1h0m-11 1h0m14 0h0m-34 1h0m30 0h0m-5 1h0m9 0h0m-29 1h0m33 0h0m-28 1h0m19 0h0m-25 1h0m22 0h0m-24 1h0m12 0h0m2 2h0m11 0h0m1 0h0m-18 1h0m-2 1h0m11 0h0m5 0h0m10 0h0m-33 1h0m3 0h0m19 0h0m-7 1h0m18 0h0m-33 1h0m25 0h0m-17 1h0m10 0h0m3 0h0m5 0h0m-25 1h0m32 0h0m-32 1h0m29 1h0m-8 1h0m-20 1h0m29 0h0m-6 1h0m-13 1h0m22 0h0m41 -237h0m1 25h0m-25 20h0m-9 19h0m25 0h0m-13 8h0m1 0h0m15 5h0m-9 18h0m-17 2h0m13 1h0m-9 2h0m-6 2h0m0 3h0m29 0h0m-12 6h0m1 3h0m-8 3h0m21 10h0m-14 2h0m-18 2h0m5 0h0m4 7h0m-1 1h0m17 0h0m8 3h0m-1 1h0m-33 2h0m33 0h0m-9 1h0m-25 2h0m6 10h0m5 0h0m3 0h0m19 2h0m-33 3h0m10 3h0m8 2h0m7 0h0m8 1h0m-21 3h0m16 1h0m-2 2h0m11 2h0m-27 1h0m26 2h0m-7 1h0m-23 1h0m5 0h0m-7 3h0m30 0h0m-34 1h0m27 1h0m6 1h0m-30 5h0m19 0h0m9 1h0m-5 1h0m-20 1h0m5 0h0m10 0h0m12 0h0m2 0h0m3 0h0m-12 2h0m1 0h0m-9 1h0m3 0h0m-2 1h0m13 1h0m2 0h0m-32 1h0m5 0h0m-7 3h0m9 0h0m-5 1h0m25 1h0m6 1h0m1 0h0m-36 2h0m15 0h0m8 1h0m-10 2h0m13 0h0m5 0h0m2 0h0m-20 1h0m4 0h0m9 0h0m7 0h0m-16 1h0m9 0h0m-9 3h0m9 0h0m5 0h0m-14 1h0m16 0h0m-33 1h0m2 0h0m5 0h0m15 0h0m6 0h0m-29 1h0m4 0h0m32 0h0m-34 1h0m1 1h0m14 0h0m7 0h0m15 0h0m-23 1h0m2 0h0m21 0h0m-19 1h0m-17 1h0m6 0h0m4 0h0m21 0h0m-33 1h0m29 0h0m-14 1h0m22 0h0m-17 1h0m-21 1h0m17 1h0m1 0h0m20 0h0m-33 1h0m24 0h0m1 0h0m-3 1h0m-19 1h0m7 0h0m-8 1h0m-5 1h0m14 0h0m-8 1h0m8 0h0m8 1h0m2 0h0m-3 1h0m5 0h0m8 0h0m17 -315h0m-12 43h0m17 89h0m-14 6h0m18 34h0m-21 1h0m21 2h0m11 2h0m-25 9h0m18 0h0m-22 1h0m0 10h0m30 6h0m-29 3h0m29 7h0m-8 1h0m-17 6h0m26 0h0m-31 2h0m6 2h0m-10 3h0m22 3h0m-1 2h0m-6 4h0m10 0h0m-12 3h0m9 0h0m15 3h0m-8 2h0m-8 4h0m-9 2h0m3 1h0m1 4h0m3 0h0m18 1h0m-37 1h0m29 2h0m-23 1h0m-2 1h0m5 0h0m20 0h0m8 0h0m1 0h0m-23 1h0m15 1h0m3 1h0m-32 1h0m0 1h0m26 0h0m7 0h0m-2 2h0m-7 1h0m-25 1h0m16 0h0m-2 1h0m17 2h0m-26 2h0m12 1h0m5 0h0m17 1h0m-17 3h0m-8 1h0m12 0h0m-19 1h0m3 0h0m6 0h0m13 1h0m-14 1h0m12 1h0m-3 2h0m14 0h0m-2 1h0m-35 1h0m24 0h0m-14 4h0m19 0h0m-21 1h0m6 0h0m2 0h0m-11 1h0m15 0h0m2 1h0m-17 1h0m10 0h0m-12 1h0m11 0h0m2 0h0m10 0h0m-12 1h0m19 0h0m-9 2h0m-25 1h0m30 0h0m1 0h0m7 0h0m-38 2h0m27 0h0m-19 1h0m28 1h0m-19 1h0m9 0h0m8 0h0m-22 2h0m4 0h0m-11 1h0m7 0h0m6 0h0m-15 1h0m13 0h0m5 0h0m4 0h0m3 0h0m-17 1h0m4 0h0m12 0h0m-18 2h0m13 0h0m4 0h0m-20 1h0m9 0h0m19 0h0m-3 2h0m11 -445h0m19 252h0m-18 9h0m12 9h0m7 14h0m-10 27h0m19 11h0m7 5h0m-29 1h0m-7 3h0m12 1h0m15 3h0m-13 12h0m8 4h0m5 5h0m-14 1h0m-15 6h0m15 0h0m-8 1h0m28 0h0m-33 2h0m34 1h0m2 3h0m-31 2h0m26 3h0m-11 3h0m-22 1h0m3 3h0m21 0h0m-12 3h0m-7 1h0m15 0h0m10 0h0m6 1h0m-11 1h0m-4 1h0m5 0h0m2 0h0m-22 1h0m21 0h0m-21 1h0m32 1h0m-33 3h0m14 1h0m4 1h0m-22 1h0m28 0h0m-5 3h0m13 0h0m-14 2h0m-8 2h0m-7 1h0m20 0h0m-13 2h0m-7 2h0m30 0h0m-14 2h0m3 0h0m-2 1h0m-11 2h0m1 0h0m4 1h0m7 0h0m3 0h0m-15 1h0m7 0h0m-10 1h0m17 0h0m-21 1h0m10 0h0m-17 1h0m4 2h0m16 0h0m13 0h0m-25 1h0m10 0h0m10 2h0m-20 1h0m0 1h0m17 0h0m-21 1h0m1 0h0m-5 1h0m7 0h0m5 2h0m10 0h0m15 0h0m-1 2h0m-24 1h0m2 0h0m2 0h0m7 1h0m-15 1h0m13 0h0m8 0h0m-19 1h0m12 1h0m1 0h0m-22 1h0m24 0h0m6 0h0m-18 1h0m14 0h0m5 0h0m7 0h0m-3 1h0m-27 1h0m5 0h0m15 0h0m-20 1h0m11 0h0m9 1h0m7 0h0m-31 1h0m3 0h0m5 0h0m1 0h0m1 0h0m14 0h0m5 0h0m-27 1h0m10 0h0m8 1h0m5 1h0m8 0h0m-10 1h0m7 1h0m12 -264h0m22 46h0m-28 55h0m11 30h0m7 12h0m-19 5h0m0 1h0m6 0h0m17 4h0m-15 13h0m15 1h0m-2 2h0m7 2h0m-19 4h0m17 0h0m13 4h0m-5 2h0m-15 3h0m8 0h0m0 2h0m-1 4h0m13 2h0m-1 6h0m-13 4h0m6 0h0m6 4h0m-22 1h0m13 1h0m-20 2h0m-7 1h0m5 1h0m31 0h0m-29 1h0m28 0h0m1 0h0m-37 2h0m23 2h0m-2 1h0m3 1h0m-20 4h0m17 0h0m0 1h0m8 0h0m-11 1h0m18 0h0m-34 1h0m14 0h0m-2 2h0m9 0h0m6 0h0m-8 3h0m-14 1h0m31 1h0m-17 1h0m-12 1h0m4 0h0m-2 1h0m9 0h0m-14 1h0m2 0h0m26 0h0m-14 2h0m4 0h0m-22 1h0m-1 2h0m27 0h0m-24 2h0m9 0h0m15 0h0m-5 2h0m2 0h0m-20 3h0m2 0h0m13 0h0m5 0h0m-24 1h0m4 0h0m10 0h0m4 0h0m-17 2h0m13 0h0m21 0h0m-33 1h0m6 0h0m14 0h0m4 0h0m-23 1h0m7 1h0m9 0h0m-20 1h0m26 0h0m-19 3h0m6 0h0m-4 1h0m3 1h0m15 0h0m12 0h0m-37 2h0m7 0h0m28 1h0m-37 1h0m11 0h0m24 0h0m-21 1h0m24 0h0m-17 1h0m5 1h0m5 3h0m4 0h0m-6 3h0m3 0h0m-1 2h0m22 -228h0m0 16h0m-9 18h0m34 1h0m-32 10h0m-2 2h0m1 30h0m26 1h0m-28 2h0m20 5h0m-6 2h0m-8 3h0m29 26h0m-31 4h0m-3 3h0m21 2h0m-9 2h0m23 1h0m-10 1h0m-25 1h0m32 1h0m-25 8h0m5 0h0m16 3h0m-4 1h0m4 5h0m-24 2h0m16 3h0m-7 4h0m-15 2h0m33 1h0m-6 1h0m6 5h0m-21 2h0m0 5h0m8 0h0m12 0h0m-16 6h0m21 1h0m-23 1h0m-16 2h0m37 0h0m-15 2h0m-10 2h0m22 0h0m-31 1h0m1 0h0m25 0h0m-7 1h0m14 1h0m0 5h0m-19 2h0m6 0h0m-17 3h0m7 1h0m-7 1h0m9 0h0m4 1h0m-4 2h0m11 0h0m-6 1h0m16 1h0m-21 3h0m-12 2h0m-2 1h0m4 0h0m7 0h0m16 0h0m-13 2h0m-1 1h0m13 3h0m-21 1h0m7 0h0m-3 1h0m-2 1h0m-5 1h0m2 0h0m6 0h0m4 0h0m-7 1h0m12 1h0m1 0h0m3 0h0m8 1h0m-31 1h0m12 0h0m20 0h0m2 0h0m-26 1h0m1 1h0m10 0h0m-14 2h0m20 0h0m13 0h0m-35 1h0m9 0h0m-6 1h0m2 1h0m3 0h0m1 1h0m15 0h0m2 1h0m-14 2h0m3 0h0m1 0h0m11 0h0m-1 1h0m7 0h0m2 0h0m-2 1h0m-9 1h0m11 3h0m-6 1h0m6 3h0m0 1h0m5 -388h0m21 103h0m-16 63h0m12 5h0m-17 31h0m33 0h0m-13 24h0m-23 1h0m20 16h0m-4 4h0m19 0h0m-4 12h0m-30 5h0m25 2h0m-12 2h0m-3 1h0m-12 16h0m32 11h0m-16 3h0m13 2h0m-9 3h0m17 0h0m-37 3h0m5 1h0m8 5h0m-10 3h0m26 0h0m6 1h0m-22 1h0m-3 4h0m28 0h0m-36 1h0m24 2h0m1 0h0m2 0h0m-28 1h0m17 2h0m-16 2h0m30 0h0m-25 5h0m4 0h0m-11 2h0m17 1h0m5 0h0m-18 1h0m6 2h0m27 2h0m-13 3h0m4 2h0m1 0h0m-5 4h0m4 1h0m-22 1h0m30 1h0m-35 1h0m37 2h0m-12 2h0m-11 1h0m8 0h0m13 0h0m-13 1h0m-8 1h0m14 0h0m10 1h0m-35 1h0m23 0h0m-22 1h0m1 0h0m18 1h0m-21 2h0m1 0h0m1 0h0m1 0h0m9 0h0m9 0h0m1 0h0m-17 4h0m21 0h0m-23 2h0m14 2h0m-6 1h0m-13 1h0m6 1h0m4 1h0m-7 1h0m1 1h0m4 0h0m5 1h0m24 0h0m-37 1h0m9 0h0m16 0h0m-11 1h0m18 0h0m-32 1h0m7 1h0m1 0h0m10 0h0m-9 1h0m9 0h0m-12 2h0m12 0h0m2 0h0m-15 1h0m9 0h0m3 0h0m19 0h0m-31 1h0m1 0h0m24 0h0m-19 1h0m-5 1h0m9 0h0m12 0h0m7 0h0m-11 1h0m11 0h0m-20 2h0m11 1h0m3 0h0m7 0h0m-10 3h0m3 0h0m-9 1h0m4 0h0m-7 1h0m5 0h0m4 0h0m6 0h0m1 0h0m-13 1h0m14 0h0m1 0h0m3 0h0m-7 1h0m-10 1h0m17 0h0m-13 1h0m10 0h0m-13 1h0m14 0h0m-2 1h0m5 0h0m-8 1h0m2 0h0m4 2h0m-2 1h0m3 2h0m1 0h0m-6 1h0m2 1h0m3 2h0m-1 1h0m11 -166h0m8 10h0m18 11h0m-23 16h0m1 22h0m-8 2h0m18 13h0m7 5h0m-9 1h0m18 12h0m-23 2h0m-9 1h0m17 2h0m6 3h0m6 0h0m-30 1h0m24 1h0m3 6h0m-30 2h0m1 5h0m25 0h0m-13 1h0m-3 1h0m15 0h0m-27 1h0m1 0h0m11 0h0m5 1h0m-17 3h0m29 0h0m-21 1h0m3 0h0m8 2h0m-12 1h0m10 1h0m16 1h0m-7 1h0m-20 2h0m-6 2h0m9 3h0m3 2h0m15 1h0m-27 1h0m24 0h0m5 0h0m-29 1h0m6 0h0m14 0h0m3 0h0m-19 1h0m17 1h0m0 2h0m12 2h0m-32 1h0m15 0h0m2 0h0m13 0h0m-24 1h0m10 0h0m14 0h0m-22 1h0m9 1h0m-10 1h0m-4 1h0m27 0h0m-17 2h0m1 1h0m11 0h0m-25 2h0m3 0h0m12 0h0m5 0h0m4 0h0m6 0h0m-18 1h0m15 0h0m-18 1h0m10 0h0m-9 1h0m27 0h0m-28 1h0m9 0h0m-17 1h0m2 0h0m17 0h0m1 0h0m-20 1h0m11 0h0m24 0h0m-29 1h0m20 0h0m-8 1h0m-17 2h0m3 0h0m23 0h0m-21 1h0m1 0h0m1 0h0m6 0h0m-15 1h0m14 0h0m12 0h0m-13 1h0m2 0h0m14 1h0m-19 1h0m4 0h0m6 0h0m-3 1h0m11 0h0m-12 1h0m2 0h0m9 0h0m-17 3h0m21 0h0m-1 1h0m-18 1h0m21 1h0m2 0h0m-15 2h0m-5 2h0m10 0h0m-1 1h0m-7 1h0m21 1h0m-18 1h0m4 0h0m7 0h0m-5 1h0m1 1h0m3 0h0m6 0h0m-15 1h0m4 1h0m8 0h0m1 1h0m-6 2h0m4 0h0m-3 1h0m0 1h0m1 3h0m4 2h0m3 1h0m-2 1h0m-2 1h0m3 2h0m27 -217h0m-12 14h0m-4 21h0m-3 7h0m0 8h0m11 32h0m16 5h0m-14 1h0m2 2h0m-10 12h0m28 3h0m-36 6h0m37 3h0m-17 5h0m-18 2h0m2 0h0m12 4h0m-11 3h0m1 2h0m6 0h0m21 0h0m-12 3h0m-9 2h0m-2 2h0m15 3h0m4 6h0m-17 9h0m20 2h0m0 1h0m-6 8h0m-20 1h0m2 1h0m7 1h0m-11 1h0m29 0h0m3 1h0m-4 1h0m-30 1h0m19 0h0m-12 1h0m18 0h0m-25 2h0m22 2h0m11 1h0m-9 1h0m-26 1h0m7 0h0m24 1h0m-10 1h0m1 0h0m-17 1h0m17 1h0m-8 2h0m16 0h0m1 0h0m-31 1h0m4 0h0m7 0h0m5 0h0m9 2h0m9 0h0m-24 1h0m12 0h0m13 0h0m-13 1h0m6 0h0m-9 1h0m5 0h0m2 0h0m-10 2h0m2 1h0m-6 3h0m11 0h0m-23 1h0m10 2h0m-5 1h0m10 0h0m13 0h0m-28 2h0m32 0h0m-21 1h0m3 0h0m9 1h0m1 0h0m-23 1h0m5 3h0m1 0h0m-3 1h0m24 0h0m4 0h0m-25 1h0m22 0h0m0 1h0m-25 1h0m6 0h0m20 0h0m2 0h0m-30 1h0m3 1h0m2 0h0m2 0h0m25 0h0m-20 2h0m-11 1h0m10 1h0m-2 1h0m17 0h0m9 0h0m-34 1h0m2 0h0m10 0h0m12 0h0m-24 3h0m2 0h0m12 1h0m-11 1h0m13 0h0m1 0h0m12 0h0m-17 1h0m5 1h0m6 0h0m-15 1h0m11 0h0m6 0h0m1 2h0m5 0h0m1 1h0m-4 1h0m-14 1h0m-4 2h0m4 0h0m3 0h0m1 0h0m15 0h0m-14 1h0m-5 1h0m9 0h0m4 2h0m4 0h0m-10 4h0m12 3h0m1 0h0m-1 3h0m-7 2h0m7 0h0m-2 1h0m1 0h0m-4 1h0m3 0h0m3 5h0m17 -210h0m17 63h0m-6 30h0m12 10h0m-22 10h0m13 5h0m-29 6h0m21 8h0m-1 1h0m-7 5h0m-5 2h0m10 1h0m14 6h0m-29 2h0m1 7h0m5 0h0m11 1h0m-19 5h0m19 0h0m5 1h0m-21 2h0m6 3h0m1 2h0m5 0h0m-13 1h0m7 1h0m4 2h0m-14 1h0m3 1h0m23 0h0m9 0h0m-34 2h0m37 1h0m-31 1h0m19 0h0m-12 1h0m-10 1h0m29 0h0m-12 1h0m1 1h0m13 0h0m-34 2h0m33 0h0m-4 1h0m-22 1h0m6 2h0m-15 1h0m1 0h0m0 2h0m2 0h0m34 0h0m-28 1h0m-9 1h0m8 2h0m9 0h0m2 1h0m-19 1h0m7 0h0m0 2h0m0 1h0m-4 1h0m11 1h0m23 0h0m-24 1h0m7 0h0m-8 2h0m-6 1h0m-3 1h0m27 0h0m-27 1h0m13 0h0m7 0h0m-17 1h0m24 0h0m6 0h0m3 0h0m-35 1h0m3 0h0m6 1h0m4 0h0m8 0h0m-16 1h0m8 0h0m0 1h0m-14 1h0m4 1h0m12 0h0m3 0h0m2 0h0m9 1h0m4 0h0m-25 1h0m18 1h0m7 0h0m-11 1h0m4 1h0m-12 1h0m-3 2h0m7 1h0m15 0h0m-16 1h0m6 0h0m-12 2h0m10 1h0m11 2h0m-10 1h0m-4 1h0m6 2h0m4 0h0m-10 1h0m17 0h0m-5 2h0m1 10h0m3 9h0m-1 1h0m2 1h0m-1 2h0m0 6h0m-1 2h0m2 3h0m-2 1h0m-1 3h0m0 3h0m1 3h0m-1 3h0m3 0h0m0 3h0m-3 9h0m-1 2h0m3 5h0m1 2h0m-4 3h0m2 0h0m1 1h0m-2 1h0m1 3h0m-1 1h0m-1 1h0m1 4h0m37 -527h0m-16 219h0m-3 26h0m4 42h0m-16 6h0m28 0h0m-9 10h0m-7 12h0m20 5h0m-15 24h0m-13 4h0m-3 14h0m20 1h0m-17 13h0m-6 1h0m28 4h0m-14 1h0m11 9h0m9 1h0m-17 2h0m7 0h0m15 1h0m-7 1h0m-19 15h0m25 3h0m-38 6h0m20 3h0m3 1h0m-7 1h0m4 2h0m-19 2h0m4 1h0m9 1h0m12 2h0m-4 4h0m-10 1h0m5 0h0m1 0h0m6 0h0m3 1h0m-9 1h0m-14 1h0m9 1h0m-3 1h0m5 1h0m4 0h0m-14 1h0m9 4h0m-9 2h0m8 1h0m-8 1h0m13 0h0m-1 2h0m2 0h0m-13 1h0m-6 1h0m18 0h0m1 0h0m-18 3h0m20 1h0m-21 1h0m7 1h0m26 0h0m-1 2h0m-22 1h0m-8 2h0m13 0h0m-5 2h0m-4 1h0m4 1h0m11 0h0m-18 2h0m1 0h0m11 1h0m-15 2h0m7 0h0m11 0h0m-9 2h0m-7 3h0m10 0h0m-8 3h0m12 1h0m-12 1h0m2 4h0m7 1h0m-2 1h0m-10 1h0m36 1h0m-23 1h0m-14 3h0m5 0h0m6 1h0m1 0h0m-12 1h0m8 1h0m1 1h0m5 2h0m-13 1h0m3 0h0m6 0h0m1 1h0m9 0h0m1 1h0m-15 1h0m8 0h0m2 0h0m-15 1h0m0 3h0m7 0h0m2 0h0m-10 2h0m7 1h0m-6 1h0m2 0h0m26 2h0m-19 1h0m-3 1h0m1 2h0m-2 1h0m-3 3h0m-1 1h0m5 0h0m0 2h0m9 1h0m53 -303h0m3 99h0m-15 27h0m-6 3h0m15 17h0m-19 42h0m7 25h0m12 16h0m6 16h0m-32 19h0m24 4h0m-18 19h0m34 -106h0"/>
</g>
<g fill="#BF1B4B" stroke="#BF1B4B" stroke-width="13.6" stroke-linecap="round" stroke-linejoin="round">
<path stroke="none" d="M388 1592 391 1600 393 1602 398 1604 402 1603 406 1599 407 1596 410 1592 410 1590 413 1585 414 1578 416 1574 416 1571 417 1570 417 1567 418 1566 418 1563 420 1558 420 1554 422 1550 422 1545 424 1540 424 1536 426 1532 426 1528 427 1527 428 1518 430 1513 431 1504 433 1499 433 1495 434 1494 434 1490 435 1489 437 1475 439 1470 439 1466 441 1463 442 1457 444 1453 444 1448 447 1443 449 1436 454 1427 454 1425 458 1417 458 1413 461 1407 461 1403 467 1391 467 1388 471 1382 474 1380 475 1377 479 1373 480 1370 485 1365 496 1350 504 1342 507 1337 509 1336 512 1332 520 1325 521 1323 522 1323 529 1316 530 1316 535 1310 538 1309 542 1305 553 1298 555 1295 561 1292 566 1288 569 1287 571 1285 576 1283 578 1281 590 1275 592 1273 597 1271 601 1268 606 1267 608 1265 621 1261 626 1258 628 1258 634 1255 636 1253 641 1252 649 1248 664 1244 674 1238 676 1238 683 1235 692 1234 693 1233 701 1232 702 1231 705 1231 710 1229 714 1229 715 1228 721 1228 722 1227 728 1227 729 1226 737 1226 738 1225 745 1225 746 1224 753 1224 754 1223 758 1223 759 1222 766 1222 767 1221 773 1221 774 1220 786 1219 787 1218 793 1218 794 1217 813 1216 814 1215 820 1215 821 1214 832 1214 833 1213 874 1212 875 1211 910 1211 911 1210 967 1210 968 1209 1033 1209 1034 1208 1137 1208 1138 1207 1765 1206 1766 1205 1768 1205 1769 1201 1768 1199 1764 1197 1762 1197 1755 1193 1753 1193 1743 1188 1740 1185 1738 1185 1723 1177 1721 1177 1715 1174 1712 1171 1696 1164 1693 1161 1688 1160 1681 1155 1679 1155 1675 1153 1672 1150 1670 1150 1668 1148 1664 1147 1662 1145 1660 1145 1658 1143 1652 1141 1649 1138 1644 1136 1642 1134 1626 1126 1622 1125 1618 1121 1616 1121 1615 1120 1609 1120 1608 1119 856 1119 855 1118 664 1117 663 1116 621 1116 620 1115 491 1115 490 1116 477 1116 476 1117 472 1117 471 1118 466 1118 465 1119 454 1122 450 1124 444 1129 441 1130 437 1134 434 1135 420 1149 419 1152 415 1156 412 1162 408 1167 401 1183 401 1187 400 1188 400 1201 399 1202 399 1218 395 1223 389 1224 388 1226 388 1238 387 1239 387 1244 386 1245 385 1264 384 1265 384 1273 383 1274 383 1282 382 1283 382 1292 381 1293 381 1314 380 1315 380 1432 381 1433 381 1497 382 1498 382 1525 383 1526 383 1541 384 1542 384 1571 385 1572 385 1577 386 1578Z"/>
<path fill="none" d="M398 1151h0m-1 1h0m-2 11h0m4 11h0m-2 5h0m2 9h0m-17 1h0m16 7h0m-2 4h0m3 7h0m-10 1h0m-4 3h0m13 1h0m-2 4h0m3 11h0m-4 2h0m-2 22h0m-2 21h0m1 1h0m-2 3h0m0 11h0m-2 1h0m1 2h0m1 2h0m-1 1h0m-1 17h0m-1 10h0m1 18h0m-1 2h0m1 16h0m-1 2h0m0 4h0m0 4h0m1 19h0m0 28h0m0 3h0m0 21h0m-1 2h0m0 11h0m1 23h0m0 12h0m-1 7h0m3 5h0m-1 3h0m1 16h0m0 2h0m0 4h0m0 12h0m1 11h0m0 13h0m0 2h0m1 1h0m0 1h0m-2 4h0m1 1h0m1 6h0m47 -770h0m-26 222h0m13 83h0m-4 1h0m-9 14h0m11 7h0m12 2h0m-30 2h0m30 0h0m-4 1h0m7 0h0m-5 1h0m-6 3h0m6 0h0m-22 2h0m19 2h0m3 0h0m-7 2h0m-24 1h0m5 1h0m19 1h0m2 0h0m-7 1h0m9 0h0m-15 2h0m-9 1h0m6 0h0m12 0h0m1 0h0m-3 2h0m-16 2h0m19 0h0m-9 2h0m-6 2h0m2 0h0m8 0h0m-6 1h0m4 0h0m-9 1h0m1 1h0m6 1h0m1 0h0m-15 1h0m8 1h0m1 0h0m2 0h0m-5 2h0m6 1h0m-4 1h0m-2 3h0m-7 1h0m6 0h0m-2 2h0m1 0h0m-2 1h0m3 5h0m-5 2h0m5 3h0m-6 8h0m2 1h0m-4 1h0m3 1h0m1 4h0m3 0h0m-6 3h0m1 1h0m-1 3h0m5 0h0m-4 1h0m-1 1h0m1 0h0m3 0h0m-2 2h0m-3 1h0m7 2h0m-3 4h0m0 2h0m1 1h0m-4 3h0m38 219h0m-1 6h0m-2 8h0m-2 4h0m-4 14h0m1 5h0m-3 7h0m0 3h0m-2 7h0m-5 28h0m-4 7h0m-1 12h0m-5 17h0m-3 11h0m-1 8h0m57 -569h0m-10 22h0m14 17h0m-8 23h0m-11 24h0m30 1h0m-28 4h0m19 3h0m0 1h0m9 2h0m-34 2h0m22 1h0m-14 3h0m16 0h0m-23 1h0m7 0h0m-11 1h0m16 0h0m14 0h0m-29 1h0m13 0h0m4 0h0m7 0h0m4 0h0m-12 1h0m-16 1h0m5 1h0m12 0h0m18 0h0m-14 1h0m-4 1h0m10 0h0m-13 2h0m4 0h0m-14 2h0m1 1h0m3 0h0m-11 1h0m11 2h0m1 0h0m-10 6h0m37 223h0m-21 35h0m-7 16h0m1 3h0m-2 2h0m1 0h0m-4 11h0m-3 6h0m46 -430h0m29 20h0m-27 51h0m11 7h0m16 3h0m-17 2h0m9 1h0m-14 6h0m-17 6h0m19 0h0m-7 2h0m27 1h0m-35 2h0m-2 1h0m2 0h0m35 0h0m-31 4h0m17 1h0m4 0h0m-29 1h0m1 0h0m2 0h0m8 0h0m7 0h0m8 0h0m-3 1h0m9 0h0m-10 1h0m-3 3h0m3 0h0m14 0h0m-18 1h0m-2 1h0m9 1h0m-25 1h0m9 0h0m13 0h0m10 0h0m-19 1h0m6 0h0m1 0h0m10 0h0m1 0h0m-28 1h0m34 194h0m-4 7h0m-8 8h0m-10 11h0m-3 2h0m-4 5h0m-3 5h0m45 -356h0m-7 14h0m13 59h0m-7 12h0m-9 8h0m1 0h0m13 1h0m-9 1h0m17 0h0m3 1h0m6 1h0m-15 1h0m19 2h0m-30 6h0m34 1h0m-4 1h0m-32 1h0m29 0h0m-20 1h0m15 0h0m8 0h0m-23 2h0m-2 1h0m-8 2h0m28 0h0m4 0h0m5 0h0m-9 2h0m3 0h0m6 0h0m-28 1h0m-11 1h0m12 1h0m-10 1h0m5 0h0m10 0h0m-5 1h0m7 0h0m12 0h0m7 0h0m-36 1h0m8 0h0m2 0h0m18 170h0m-6 5h0m-7 4h0m-6 4h0m-3 4h0m-4 3h0m-2 3h0m61 -301h0m-4 47h0m-15 20h0m15 0h0m11 12h0m-14 1h0m14 2h0m-16 3h0m4 4h0m-9 3h0m22 1h0m-12 1h0m10 0h0m-23 2h0m21 0h0m-4 1h0m-8 1h0m5 0h0m1 0h0m11 0h0m2 0h0m-32 1h0m24 1h0m-25 1h0m2 0h0m12 0h0m14 0h0m6 0h0m4 0h0m-28 1h0m11 0h0m1 0h0m1 0h0m1 0h0m11 0h0m-34 1h0m18 0h0m-19 1h0m4 0h0m21 0h0m13 0h0m-38 1h0m10 0h0m9 0h0m12 0h0m2 0h0m-32 1h0m33 0h0m4 0h0m-20 1h0m-5 1h0m9 0h0m1 0h0m5 0h0m5 0h0m1 0h0m0 1h0m2 141h0m-37 20h0m44 -344h0m17 50h0m14 75h0m-20 6h0m1 16h0m13 3h0m-21 3h0m-8 5h0m35 2h0m-15 3h0m9 1h0m1 1h0m-16 1h0m11 0h0m-17 1h0m10 0h0m8 2h0m9 0h0m-24 2h0m-4 1h0m30 0h0m-29 1h0m8 0h0m17 0h0m-27 1h0m28 0h0m-30 1h0m3 0h0m11 0h0m13 0h0m-11 1h0m-17 1h0m14 0h0m2 0h0m5 0h0m1 0h0m-3 1h0m-9 1h0m8 0h0m4 0h0m-22 1h0m1 0h0m15 0h0m8 0h0m6 0h0m-24 1h0m24 0h0m3 0h0m-1 1h0m4 0h0m-20 1h0m16 0h0m-8 1h0m4 125h0m-18 7h0m65 -198h0m-37 27h0m9 6h0m8 3h0m9 1h0m-20 2h0m2 0h0m-8 1h0m-1 2h0m37 1h0m-27 1h0m-10 3h0m17 2h0m-14 1h0m30 1h0m-17 1h0m-9 1h0m16 0h0m11 0h0m-5 1h0m-21 1h0m17 0h0m-12 2h0m1 0h0m-8 1h0m7 0h0m24 0h0m-17 1h0m-10 1h0m8 0h0m8 0h0m1 1h0m1 0h0m-8 1h0m2 0h0m7 0h0m-21 1h0m23 0h0m1 0h0m1 0h0m-16 2h0m7 0h0m-4 1h0m19 1h0m-1 104h0m-22 10h0m58 -156h0m-15 5h0m-11 5h0m29 3h0m-29 8h0m9 1h0m-13 3h0m6 1h0m-10 1h0m19 0h0m4 2h0m5 1h0m-1 2h0m11 0h0m-20 1h0m7 0h0m6 0h0m-21 1h0m2 0h0m7 0h0m7 0h0m6 0h0m-30 1h0m5 0h0m18 0h0m-12 2h0m19 0h0m4 0h0m1 0h0m-32 1h0m9 0h0m4 0h0m2 0h0m10 0h0m-30 1h0m2 0h0m7 0h0m10 0h0m-14 1h0m13 0h0m4 0h0m-5 2h0m4 0h0m7 0h0m3 0h0m-1 98h0m45 -168h0m-15 27h0m19 1h0m-37 18h0m11 0h0m22 4h0m-20 6h0m18 0h0m-14 1h0m19 0h0m-33 1h0m9 0h0m11 0h0m3 0h0m-28 1h0m32 0h0m-24 1h0m1 0h0m5 0h0m17 2h0m7 0h0m-37 1h0m9 0h0m16 0h0m5 0h0m8 0h0m-27 1h0m6 0h0m10 0h0m-18 1h0m10 0h0m15 0h0m-28 1h0m22 0h0m-2 1h0m5 0h0m1 0h0m2 0h0m-26 1h0m9 0h0m-6 1h0m8 0h0m13 0h0m-28 1h0m13 0h0m6 92h0m18 -154h0m-2 13h0m16 0h0m8 0h0m-15 6h0m22 3h0m-3 4h0m-17 7h0m18 4h0m-5 1h0m14 1h0m-31 1h0m8 2h0m3 3h0m-14 3h0m15 1h0m12 0h0m-20 1h0m14 0h0m11 0h0m-25 1h0m18 0h0m5 0h0m-27 1h0m27 0h0m-29 2h0m28 0h0m3 0h0m-21 1h0m3 0h0m4 0h0m-11 1h0m8 0h0m-19 1h0m15 0h0m23 0h0m-10 1h0m-18 1h0m-2 1h0m18 0h0m1 0h0m-27 1h0m7 0h0m19 0h0m-9 1h0m2 87h0m-13 3h0m53 -137h0m14 7h0m5 6h0m-2 9h0m-11 2h0m11 6h0m-15 1h0m1 2h0m12 0h0m-23 1h0m8 0h0m7 0h0m-25 1h0m9 0h0m17 0h0m2 0h0m-24 1h0m3 0h0m1 1h0m-7 2h0m10 0h0m1 1h0m20 0h0m-25 1h0m19 0h0m11 1h0m-31 1h0m8 0h0m5 0h0m8 0h0m2 0h0m1 0h0m-18 1h0m7 0h0m10 0h0m6 0h0m-28 1h0m5 0h0m6 0h0m18 0h0m-18 1h0m7 0h0m12 0h0m-38 1h0m9 0h0m15 0h0m8 0h0m-23 1h0m1 0h0m24 0h0m1 80h0m-1 1h0m-21 1h0m35 -195h0m17 64h0m-19 5h0m31 4h0m-35 4h0m12 11h0m-5 2h0m-5 2h0m4 0h0m23 2h0m-21 1h0m6 1h0m-3 1h0m0 2h0m18 0h0m-26 2h0m1 0h0m22 0h0m-17 1h0m-8 1h0m27 0h0m-27 1h0m5 0h0m2 0h0m-8 1h0m5 0h0m6 0h0m1 0h0m3 0h0m7 0h0m-3 1h0m3 0h0m11 0h0m-8 1h0m2 0h0m1 0h0m6 0h0m-34 1h0m1 0h0m12 0h0m13 0h0m-9 1h0m4 0h0m-15 1h0m31 0h0m-35 1h0m7 0h0m20 0h0m-21 1h0m16 0h0m13 0h0m-30 1h0m16 0h0m3 0h0m41 -62h0m-29 20h0m24 0h0m-23 3h0m20 16h0m15 1h0m-2 4h0m2 2h0m-9 1h0m12 0h0m-30 1h0m30 0h0m-28 1h0m2 0h0m3 0h0m2 0h0m4 1h0m13 0h0m4 0h0m-38 2h0m9 0h0m18 0h0m-11 1h0m1 0h0m-12 1h0m17 0h0m9 1h0m1 0h0m5 0h0m-36 1h0m6 0h0m16 0h0m9 0h0m-14 1h0m9 0h0m6 0h0m2 0h0m-16 1h0m5 0h0m12 0h0m-31 1h0m26 0h0m2 0h0m1 0h0m-29 1h0m32 0h0m1 0h0m-2 1h0m-5 1h0m27 -39h0m-2 5h0m-11 6h0m5 2h0m7 1h0m16 3h0m3 2h0m-6 2h0m-18 1h0m21 0h0m-30 1h0m12 0h0m9 2h0m5 0h0m-24 1h0m10 1h0m-8 2h0m-6 1h0m32 0h0m-31 1h0m1 0h0m2 0h0m17 0h0m-8 2h0m1 0h0m-16 1h0m21 0h0m11 0h0m-16 1h0m4 0h0m-12 1h0m8 0h0m1 0h0m7 0h0m3 0h0m-8 1h0m1 0h0m3 1h0m10 0h0m2 0h0m-32 1h0m2 0h0m8 0h0m20 0h0m4 0h0m1 0h0m-24 1h0m4 0h0m1 0h0m14 0h0m5 0h0m29 -69h0m-26 23h0m9 9h0m20 1h0m-20 1h0m5 1h0m16 2h0m-2 5h0m-23 1h0m-2 1h0m16 5h0m18 0h0m-31 1h0m21 0h0m-26 2h0m2 0h0m11 1h0m9 0h0m1 0h0m-2 1h0m14 0h0m-33 1h0m5 0h0m8 0h0m-1 2h0m-4 1h0m-3 1h0m-2 1h0m2 0h0m9 0h0m9 0h0m5 0h0m-32 1h0m4 0h0m5 0h0m12 0h0m-16 1h0m-5 1h0m0 1h0m2 0h0m3 0h0m4 0h0m2 0h0m8 0h0m15 0h0m1 0h0m-35 1h0m3 0h0m17 0h0m-15 1h0m19 0h0m8 0h0m-24 1h0m9 0h0m10 0h0m2 0h0m5 0h0m1 0h0m-29 1h0m23 1h0m-13 75h0m0 1h0m55 -151h0m-24 6h0m16 18h0m0 4h0m-19 11h0m32 2h0m-35 1h0m8 3h0m10 0h0m1 2h0m0 2h0m19 2h0m-30 1h0m5 4h0m12 0h0m-21 1h0m6 0h0m19 0h0m-25 1h0m8 0h0m4 1h0m-16 1h0m17 2h0m21 1h0m-3 1h0m-32 2h0m14 0h0m14 0h0m-15 1h0m-16 1h0m10 0h0m3 0h0m5 0h0m4 0h0m-11 1h0m2 0h0m5 0h0m16 0h0m-30 1h0m12 0h0m10 0h0m10 0h0m-6 1h0m-29 1h0m19 0h0m1 0h0m3 0h0m-23 1h0m8 0h0m12 0h0m-11 1h0m23 0h0m5 1h0m21 -107h0m7 60h0m4 10h0m-1 5h0m-28 1h0m22 1h0m6 1h0m-20 2h0m5 2h0m7 2h0m14 0h0m-28 2h0m18 0h0m-26 1h0m21 1h0m-11 2h0m21 3h0m-30 1h0m5 1h0m4 0h0m3 1h0m18 0h0m-18 1h0m14 0h0m7 0h0m-26 1h0m13 1h0m18 0h0m-34 1h0m32 0h0m-26 1h0m7 0h0m14 0h0m5 0h0m-22 1h0m-15 1h0m15 0h0m11 0h0m-16 1h0m9 0h0m5 0h0m1 0h0m10 0h0m-31 1h0m3 0h0m19 0h0m11 0h0m-18 1h0m2 1h0m11 0h0m27 -46h0m13 13h0m-21 4h0m-7 2h0m16 0h0m9 0h0m-13 3h0m15 4h0m-6 3h0m14 0h0m-25 2h0m6 0h0m-2 1h0m4 0h0m4 1h0m3 0h0m-17 3h0m7 0h0m6 0h0m-21 1h0m13 1h0m7 0h0m7 0h0m-22 1h0m-1 1h0m11 0h0m-9 1h0m3 0h0m18 0h0m1 0h0m5 0h0m-37 1h0m17 0h0m4 0h0m15 0h0m-26 1h0m3 0h0m11 0h0m5 1h0m40 -69h0m-29 22h0m0 6h0m24 6h0m15 0h0m0 1h0m-18 2h0m11 2h0m7 2h0m-27 1h0m22 3h0m-31 2h0m19 3h0m0 2h0m5 0h0m-26 1h0m21 1h0m10 3h0m7 0h0m-38 1h0m13 0h0m10 0h0m12 1h0m-23 1h0m16 0h0m9 1h0m-24 1h0m1 0h0m8 0h0m4 0h0m-16 1h0m-11 1h0m8 0h0m7 0h0m6 1h0m16 0h0m-22 1h0m7 0h0m-19 1h0m12 0h0m7 0h0m-13 1h0m17 0h0m1 0h0m-19 1h0m2 0h0m16 0h0m3 0h0m2 1h0m-15 74h0m11 0h0m9 0h0m-13 1h0m13 0h0m37 -119h0m-8 14h0m14 4h0m-19 2h0m9 0h0m-24 1h0m28 1h0m-17 3h0m19 1h0m-2 2h0m-23 1h0m4 1h0m19 0h0m5 0h0m0 1h0m-27 1h0m15 2h0m-19 1h0m12 0h0m16 0h0m1 0h0m-30 1h0m12 0h0m3 0h0m-5 1h0m8 0h0m-1 1h0m-22 1h0m2 0h0m13 0h0m1 0h0m2 0h0m-19 1h0m4 0h0m5 0h0m1 0h0m21 0h0m-30 1h0m33 0h0m5 0h0m-24 2h0m5 0h0m10 0h0m-8 1h0m6 0h0m2 0h0m-25 74h0m7 1h0m43 -137h0m4 21h0m20 7h0m-13 1h0m-23 2h0m35 3h0m-37 2h0m9 3h0m15 1h0m0 3h0m-22 1h0m11 0h0m22 1h0m-13 3h0m-19 2h0m12 0h0m-15 2h0m13 1h0m11 0h0m6 0h0m-28 1h0m-2 1h0m2 0h0m29 0h0m-30 1h0m12 0h0m15 0h0m3 0h0m-14 1h0m20 0h0m-36 1h0m23 0h0m2 0h0m-22 1h0m11 0h0m3 0h0m13 0h0m-27 1h0m1 0h0m17 0h0m-4 1h0m10 0h0m-13 1h0m7 0h0m19 -39h0m25 3h0m-1 4h0m-5 5h0m-13 2h0m-8 4h0m22 1h0m4 1h0m12 1h0m-27 2h0m25 0h0m-3 1h0m4 0h0m-33 1h0m3 1h0m1 0h0m6 4h0m22 0h0m3 0h0m-29 1h0m19 0h0m-27 1h0m1 0h0m7 0h0m26 0h0m-34 1h0m5 0h0m24 0h0m-29 1h0m21 0h0m-20 1h0m4 0h0m2 0h0m6 0h0m2 0h0m3 0h0m4 0h0m1 1h0m-16 1h0m8 0h0m20 0h0m-16 1h0m-14 1h0m29 0h0m-25 1h0m56 -90h0m-20 21h0m1 34h0m24 2h0m-10 2h0m-13 6h0m-8 2h0m24 1h0m-1 3h0m7 0h0m-7 1h0m12 1h0m1 0h0m0 1h0m-23 1h0m11 0h0m1 0h0m3 0h0m4 0h0m-27 1h0m-5 1h0m12 0h0m18 0h0m-20 1h0m3 0h0m12 0h0m4 0h0m9 0h0m-37 1h0m3 0h0m18 0h0m-17 1h0m-6 1h0m10 0h0m5 0h0m-13 1h0m18 0h0m-14 1h0m10 0h0m13 0h0m1 0h0m-22 1h0m7 0h0m5 1h0m-19 1h0m5 0h0m2 0h0m25 0h0m1 0h0m-27 1h0m32 0h0m-18 1h0m10 0h0m-22 1h0m5 0h0m4 0h0m2 0h0m8 0h0m-1 1h0m6 0h0m29 -134h0m15 94h0m-18 4h0m17 1h0m-13 5h0m-11 1h0m-11 2h0m9 0h0m11 2h0m0 2h0m1 3h0m8 0h0m-14 2h0m20 0h0m-9 1h0m-19 1h0m11 0h0m10 1h0m5 1h0m-20 2h0m11 0h0m7 0h0m-29 1h0m12 0h0m13 0h0m10 0h0m1 1h0m-20 1h0m1 0h0m19 0h0m-13 1h0m-24 1h0m33 0h0m2 0h0m-14 1h0m8 0h0m-16 1h0m7 0h0m-3 1h0m4 0h0m-17 1h0m-4 1h0m37 1h0m32 -129h0m-21 37h0m-10 29h0m0 28h0m3 1h0m33 0h0m-30 3h0m-6 4h0m25 6h0m-25 2h0m24 1h0m-20 1h0m8 1h0m16 0h0m-22 1h0m4 0h0m3 1h0m23 1h0m-30 1h0m3 2h0m18 0h0m7 0h0m-5 1h0m10 0h0m-31 1h0m5 0h0m9 0h0m2 0h0m1 0h0m12 0h0m-35 1h0m21 0h0m-23 1h0m19 0h0m-14 1h0m-4 1h0m8 0h0m29 0h0m-16 1h0m7 0h0m9 0h0m-16 1h0m15 0h0m-24 2h0m3 0h0m5 0h0m2 0h0m9 0h0m3 0h0m1 0h0m-15 1h0m40 -49h0m-5 3h0m12 8h0m-11 8h0m12 6h0m-25 1h0m26 0h0m3 2h0m-26 2h0m26 2h0m-22 1h0m3 0h0m20 0h0m-25 1h0m1 2h0m10 0h0m2 0h0m-19 3h0m1 0h0m2 0h0m1 0h0m9 0h0m8 0h0m-19 1h0m31 0h0m-36 1h0m26 0h0m5 1h0m2 2h0m4 0h0m-12 1h0m-12 1h0m5 0h0m1 0h0m9 0h0m-23 1h0m19 0h0m4 1h0m-22 73h0m48 -109h0m25 6h0m-15 6h0m14 0h0m-15 1h0m8 2h0m0 3h0m-18 5h0m9 0h0m14 1h0m-12 1h0m-8 1h0m22 0h0m1 1h0m-6 1h0m3 0h0m-28 1h0m13 0h0m1 0h0m-5 1h0m-14 1h0m32 0h0m-22 1h0m4 0h0m10 0h0m4 0h0m-22 1h0m21 0h0m1 0h0m-27 1h0m5 0h0m6 1h0m16 0h0m-19 1h0m1 0h0m3 0h0m22 0h0m-32 1h0m32 0h0m-38 72h0m4 0h0m61 -129h0m-15 15h0m19 18h0m-26 1h0m-2 3h0m27 0h0m-9 1h0m5 0h0m-24 4h0m2 2h0m14 0h0m-16 1h0m8 0h0m16 0h0m8 0h0m-31 1h0m8 1h0m2 0h0m5 0h0m8 3h0m2 0h0m-19 1h0m2 0h0m27 0h0m2 0h0m-32 1h0m13 0h0m-15 1h0m5 0h0m12 0h0m14 0h0m-23 1h0m2 0h0m2 0h0m9 0h0m8 0h0m-24 1h0m1 0h0m11 0h0m-20 1h0m5 0h0m4 0h0m26 0h0m12 -66h0m-3 4h0m17 12h0m-10 12h0m16 2h0m-26 7h0m33 5h0m-6 1h0m-24 1h0m21 2h0m4 0h0m-14 2h0m6 2h0m-4 2h0m-6 1h0m10 0h0m15 1h0m-2 1h0m1 0h0m-6 2h0m-21 1h0m26 2h0m-17 1h0m8 0h0m4 0h0m-27 1h0m4 0h0m7 1h0m11 0h0m4 0h0m9 0h0m-33 1h0m1 1h0m10 0h0m8 0h0m-12 1h0m9 0h0m1 0h0m2 0h0m2 0h0m38 -39h0m-5 1h0m19 6h0m-27 5h0m22 1h0m-28 1h0m21 5h0m6 1h0m-5 1h0m12 0h0m-24 2h0m10 1h0m-21 1h0m4 0h0m11 2h0m-11 1h0m8 0h0m14 0h0m-26 1h0m7 0h0m2 0h0m3 0h0m13 1h0m3 0h0m-17 1h0m8 0h0m3 0h0m-18 1h0m6 0h0m5 0h0m1 0h0m2 0h0m-20 1h0m10 0h0m25 0h0m-27 1h0m27 0h0m-36 1h0m7 0h0m-3 1h0m11 0h0m17 0h0m3 0h0m-20 1h0m4 1h0m2 0h0m2 0h0m12 0h0m-25 1h0m1 0h0m4 0h0m11 0h0m-9 1h0m5 0h0m23 -31h0m21 3h0m-2 1h0m-19 1h0m1 0h0m23 2h0m-30 5h0m5 5h0m11 3h0m21 0h0m-37 1h0m18 1h0m-12 1h0m18 1h0m-3 1h0m-4 1h0m2 0h0m6 0h0m-3 1h0m3 0h0m-1 1h0m13 0h0m-22 1h0m6 0h0m1 0h0m2 0h0m-22 1h0m3 0h0m22 0h0m-14 1h0m17 0h0m1 0h0m0 2h0m1 1h0m2 0h0m-12 1h0m3 0h0m3 0h0m11 1h0m-7 1h0m6 0h0m-11 1h0m5 1h0m-4 1h0m2 1h0m6 1h0m20 -45h0m16 3h0m-30 7h0m1 10h0m-3 4h0m1 0h0m9 1h0m3 3h0m-8 5h0m10 0h0m-11 3h0m19 0h0m-17 1h0m0 1h0m8 0h0m5 2h0m-12 1h0m10 0h0m-14 1h0m1 1h0m2 0h0m-3 1h0m11 1h0m22 0h0m-21 3h0m-11 1h0m2 0h0m5 1h0m8 0h0m15 0h0m-31 1h0m2 0h0m7 0h0m9 0h0m2 0h0m10 0h0m-18 1h0m2 0h0m20 0h0m-3 1h0m-21 1h0m10 0h0m4 0h0m-7 2h0m2 0h0m13 1h0m-13 1h0m15 1h0m-11 1h0m12 0h0m-12 1h0m13 0h0m-11 1h0m5 0h0m-2 1h0m8 3h0m0 2h0m10 -38h0m1 19h0m-5 4h0m18 3h0m-21 3h0m1 2h0m11 1h0m10 0h0m7 0h0m-18 3h0m20 1h0m-18 1h0m-15 1h0m14 0h0m1 4h0m-10 2h0m1 0h0m1 0h0m6 0h0m-6 1h0m16 0h0m2 0h0m5 0h0m-10 3h0m1 0h0m-4 1h0m3 0h0m3 0h0m7 0h0m-10 2h0m12 0h0m-1 1h0m3 0h0m4 0h0m-4 2h0m2 0h0m3 0h0m-8 2h0m8 0h0m-2 1h0m1 0h0m-4 1h0m4 1h0m14 -44h0m-3 23h0m9 10h0m5 0h0m-22 4h0m5 0h0m9 0h0m18 0h0m-27 2h0m-2 2h0m3 0h0m-7 3h0m1 0h0m10 0h0m11 0h0m-8 1h0m-7 1h0m-4 1h0m4 0h0m0 1h0m6 0h0m7 0h0m8 0h0m11 0h0m-35 1h0m6 0h0m7 0h0m17 0h0m-21 3h0m2 2h0m2 0h0m11 1h0m9 1h0m-15 2h0m4 0h0m13 0h0m0 1h0m-11 1h0m4 0h0m16 -15h0m18 6h0m-18 3h0m-7 1h0m5 1h0m4 1h0m5 0h0m13 0h0m-23 2h0m1 0h0m2 1h0m17 0h0"/>
</g>
<g fill="#34495E" stroke="#34495E" stroke-width="13.6" stroke-linecap="round" stroke-linejoin="round">
<path stroke="none" d="M452 1354 392 1354 391 1355 389 1355 387 1359 386 1380 385 1381 384 1400 383 1401 383 1421 382 1422 382 1502 383 1503 384 1556 385 1557 385 1571 386 1572 386 1582 387 1583 388 1592 391 1600 393 1602 398 1604 402 1603 406 1599 413 1585 414 1578 416 1574 416 1571 417 1570 417 1567 418 1566 418 1563 420 1558 420 1554 422 1550 422 1545 424 1540 424 1536 426 1532 426 1528 427 1527 428 1518 430 1513 431 1504 433 1499 433 1495 434 1494 434 1490 435 1489 437 1475 439 1470 439 1466 440 1465 440 1462 441 1461 441 1458 442 1457 442 1454 444 1449 445 1440 446 1439 447 1431 448 1430 449 1396 450 1395 450 1389 451 1388 452 1377 454 1372 454 1367 456 1362 456 1357 455 1355 453 1355Z"/>
<path fill="none" d="M393 1292h0m-2 4h0m4 17h0m-3 12h0m4 2h0m-3 1h0m-6 3h0m9 17h0m3 2h0m-2 1h0m1 5h0m-4 10h0m-1 7h0m-2 16h0m0 6h0m1 3h0m-2 17h0m1 6h0m-1 19h0m0 4h0m-2 1h0m1 0h0m0 8h0m0 9h0m-1 3h0m0 8h0m0 18h0m1 12h0m3 41h0m1 36h0m1 4h0m19 -300h0m-4 14h0m0 6h0m21 2h0m-8 9h0m-12 1h0m15 1h0m-5 6h0m3 1h0m0 1h0m-20 1h0m3 1h0m-6 5h0m5 1h0m18 0h0m5 0h0m-5 3h0m-11 3h0m-10 2h0m32 0h0m4 0h0m-20 1h0m16 0h0m-11 1h0m2 0h0m10 1h0m-2 2h0m5 0h0m-3 2h0m-21 1h0m-13 1h0m23 0h0m13 0h0m-21 1h0m2 0h0m7 0h0m-10 2h0m-9 1h0m13 0h0m-13 1h0m4 0h0m4 0h0m-12 1h0m24 0h0m-5 2h0m15 0h0m-33 1h0m21 0h0m-2 1h0m15 0h0m-33 1h0m29 1h0m5 80h0m0 9h0m-2 3h0m-8 35h0m-1 1h0m-2 14h0m-8 36h0m34 -249h0m0 3h0m9 8h0m10 1h0m-19 3h0m-2 6h0m8 2h0m2 2h0m-16 1h0m16 1h0m2 3h0m-19 5h0m4 5h0m2 1h0m9 0h0m-12 1h0m29 0h0m-33 4h0m10 2h0m2 3h0m-10 3h0m4 2h0m-7 1h0m1 1h0m9 2h0m-2 2h0m0 1h0m-5 1h0m3 0h0m-5 4h0m5 2h0m0 16h0m-2 16h0m-2 11h0m0 12h0m0 4h0m0 12h0m-2 2h0m117 -227h0m7 -1h0m-2 1h0m0 3h0m154 0h0m-1 1h0m28 -4h0m8 0h0m3 0h0m-20 1h0m-1 1h0m2 0h0m1 1h0m15 0h0m-28 1h0m12 0h0m-2 4h0m2 0h0m5 1h0m1 0h0m6 1h0m-19 1h0m35 -9h0m-3 1h0m79 -14h0m-1 1h0m4 -1h0m75 -7h0m-1 3h0m-2 2h0m-1 3h0m-5 3h0m40 -1h0m3 1h0m2 1h0m58 -17h0m0 3h0m43 -16h0m8 10h0m-17 14h0m27 5h0m14 -7h0m70 -10h0m-2 3h0m-30 6h0m2 1h0m6 0h0m41 -13h0m0 2h0m251 12h0m12 0h0m3 0h0m-17 1h0m4 0h0m111 -5h0m6 0h0m93 -10h0m-3 1h0m2 0h0"/>
</g>
<g stroke="#777" stroke-width="3.5" stroke-dasharray="14.1 4.99" fill="none">
<path d="M314.8 1283.0 H1925.3"/>
<path stroke-dashoffset="3.5" d="M596.1 1281.3 V1656.6"/>
<path d="M1966.3 1283.0 H2089.0"/>
</g>
<path d="M1969.0 124.0C1969.0 203.3 1968.8 487.3 1969.0 600.0C1969.2 712.7 1969.5 750.0 1970.0 800.0C1970.5 850.0 1971.2 872.0 1972.0 900.0C1972.8 928.0 1973.1 949.1 1974.7 968.0C1976.3 986.9 1978.3 999.0 1981.5 1013.4C1984.7 1027.8 1988.8 1041.4 1993.9 1054.2C1999.0 1067.0 2005.1 1080.3 2012.1 1090.5C2019.1 1100.7 2028.2 1108.2 2036.0 1115.4C2043.8 1122.6 2051.1 1128.3 2058.7 1133.6C2066.3 1138.9 2073.8 1143.0 2081.4 1147.2C2089.0 1151.4 2096.4 1155.1 2104.0 1158.5C2111.6 1161.9 2119.2 1164.8 2126.8 1167.6C2134.4 1170.4 2141.9 1172.9 2149.4 1175.5C2156.9 1178.1 2165.8 1181.2 2172.0 1183.4C2178.2 1185.6 2188.7 1186.3 2186.8 1188.4C2184.9 1190.5 2170.8 1194.0 2160.8 1195.9C2150.8 1197.8 2140.0 1198.5 2126.8 1199.8C2113.6 1201.1 2096.5 1202.7 2081.4 1203.9C2066.3 1205.2 2047.3 1206.2 2036.0 1207.3C2024.7 1208.4 2019.8 1209.4 2013.4 1210.5C2007.0 1211.6 2002.0 1212.8 1997.5 1214.0C1993.0 1215.2 1989.6 1216.3 1986.2 1218.0C1982.8 1219.7 1979.5 1221.7 1977.0 1224.0C1974.5 1226.3 1972.3 1228.5 1971.0 1232.0C1969.7 1235.5 1969.3 1242.8 1969.0 1245.0Z" fill="#FDC20F" fill-opacity="0.62" stroke="none"/>
<path d="M1969.0 124.0C1969.0 203.3 1968.8 487.3 1969.0 600.0C1969.2 712.7 1969.5 750.0 1970.0 800.0C1970.5 850.0 1971.2 872.0 1972.0 900.0C1972.8 928.0 1973.1 949.1 1974.7 968.0C1976.3 986.9 1978.3 999.0 1981.5 1013.4C1984.7 1027.8 1988.8 1041.4 1993.9 1054.2C1999.0 1067.0 2005.1 1080.3 2012.1 1090.5C2019.1 1100.7 2028.2 1108.2 2036.0 1115.4C2043.8 1122.6 2051.1 1128.3 2058.7 1133.6C2066.3 1138.9 2073.8 1143.0 2081.4 1147.2C2089.0 1151.4 2096.4 1155.1 2104.0 1158.5C2111.6 1161.9 2119.2 1164.8 2126.8 1167.6C2134.4 1170.4 2141.9 1172.9 2149.4 1175.5C2156.9 1178.1 2165.8 1181.2 2172.0 1183.4C2178.2 1185.6 2188.7 1186.3 2186.8 1188.4C2184.9 1190.5 2170.8 1194.0 2160.8 1195.9C2150.8 1197.8 2140.0 1198.5 2126.8 1199.8C2113.6 1201.1 2096.5 1202.7 2081.4 1203.9C2066.3 1205.2 2047.3 1206.2 2036.0 1207.3C2024.7 1208.4 2019.8 1209.4 2013.4 1210.5C2007.0 1211.6 2002.0 1212.8 1997.5 1214.0C1993.0 1215.2 1989.6 1216.3 1986.2 1218.0C1982.8 1219.7 1979.5 1221.7 1977.0 1224.0C1974.5 1226.3 1972.3 1228.5 1971.0 1232.0C1969.7 1235.5 1969.3 1242.8 1969.0 1245.0" fill="none" stroke="#FDC20F" stroke-width="5.2" stroke-linejoin="round"/>
<path d="M1969.0 770.0C1969.0 818.3 1968.8 1006.7 1969.0 1060.0C1969.2 1113.3 1969.6 1081.7 1970.0 1090.0C1970.4 1098.3 1970.8 1103.7 1971.4 1110.0C1972.0 1116.3 1972.4 1122.3 1973.5 1128.0C1974.6 1133.7 1975.1 1138.9 1978.0 1144.0C1980.9 1149.1 1984.8 1154.4 1990.7 1158.5C1996.6 1162.6 2005.9 1164.9 2013.4 1168.7C2021.0 1172.5 2031.1 1177.4 2036.0 1181.2C2040.9 1185.0 2042.9 1188.8 2042.9 1191.4C2042.9 1194.0 2040.9 1194.3 2036.0 1197.0C2031.1 1199.7 2019.8 1204.5 2013.4 1207.3C2007.0 1210.1 2002.0 1211.4 1997.5 1214.0C1993.0 1216.6 1989.0 1219.8 1986.2 1223.0C1983.4 1226.2 1982.0 1228.2 1980.5 1233.3C1979.0 1238.4 1977.8 1243.4 1977.0 1253.7C1976.2 1264.0 1975.8 1282.5 1976.0 1295.0C1976.2 1307.5 1976.7 1317.7 1978.0 1329.0C1979.3 1340.3 1981.2 1352.0 1984.0 1363.0C1986.8 1374.0 1990.1 1384.7 1995.0 1395.0C1999.9 1405.3 2006.6 1415.5 2013.4 1424.6C2020.2 1433.7 2029.2 1442.3 2036.0 1449.5C2042.8 1456.7 2049.1 1461.7 2054.0 1467.7C2058.9 1473.8 2063.0 1479.8 2065.5 1485.8C2068.0 1491.8 2068.8 1499.1 2069.0 1504.0C2069.2 1508.9 2068.4 1511.2 2066.7 1515.0C2065.0 1518.8 2063.8 1522.0 2058.7 1526.6C2053.6 1531.2 2043.5 1537.6 2036.0 1542.5C2028.5 1547.4 2021.0 1551.5 2013.4 1556.0C2005.9 1560.5 1996.8 1565.9 1990.7 1569.7C1984.6 1573.5 1980.4 1575.4 1977.0 1578.8C1973.6 1582.2 1971.6 1586.5 1970.3 1590.0C1969.0 1593.5 1969.2 1593.7 1969.0 1600.0C1968.8 1606.3 1969.0 1623.3 1969.0 1628.0Z" fill="#BF1B4B" fill-opacity="0.62" stroke="none"/>
<path d="M1969.0 770.0C1969.0 818.3 1968.8 1006.7 1969.0 1060.0C1969.2 1113.3 1969.6 1081.7 1970.0 1090.0C1970.4 1098.3 1970.8 1103.7 1971.4 1110.0C1972.0 1116.3 1972.4 1122.3 1973.5 1128.0C1974.6 1133.7 1975.1 1138.9 1978.0 1144.0C1980.9 1149.1 1984.8 1154.4 1990.7 1158.5C1996.6 1162.6 2005.9 1164.9 2013.4 1168.7C2021.0 1172.5 2031.1 1177.4 2036.0 1181.2C2040.9 1185.0 2042.9 1188.8 2042.9 1191.4C2042.9 1194.0 2040.9 1194.3 2036.0 1197.0C2031.1 1199.7 2019.8 1204.5 2013.4 1207.3C2007.0 1210.1 2002.0 1211.4 1997.5 1214.0C1993.0 1216.6 1989.0 1219.8 1986.2 1223.0C1983.4 1226.2 1982.0 1228.2 1980.5 1233.3C1979.0 1238.4 1977.8 1243.4 1977.0 1253.7C1976.2 1264.0 1975.8 1282.5 1976.0 1295.0C1976.2 1307.5 1976.7 1317.7 1978.0 1329.0C1979.3 1340.3 1981.2 1352.0 1984.0 1363.0C1986.8 1374.0 1990.1 1384.7 1995.0 1395.0C1999.9 1405.3 2006.6 1415.5 2013.4 1424.6C2020.2 1433.7 2029.2 1442.3 2036.0 1449.5C2042.8 1456.7 2049.1 1461.7 2054.0 1467.7C2058.9 1473.8 2063.0 1479.8 2065.5 1485.8C2068.0 1491.8 2068.8 1499.1 2069.0 1504.0C2069.2 1508.9 2068.4 1511.2 2066.7 1515.0C2065.0 1518.8 2063.8 1522.0 2058.7 1526.6C2053.6 1531.2 2043.5 1537.6 2036.0 1542.5C2028.5 1547.4 2021.0 1551.5 2013.4 1556.0C2005.9 1560.5 1996.8 1565.9 1990.7 1569.7C1984.6 1573.5 1980.4 1575.4 1977.0 1578.8C1973.6 1582.2 1971.6 1586.5 1970.3 1590.0C1969.0 1593.5 1969.2 1593.7 1969.0 1600.0C1968.8 1606.3 1969.0 1623.3 1969.0 1628.0" fill="none" stroke="#BF1B4B" stroke-width="5.2" stroke-linejoin="round"/>
<path d="M1969.0 1164.0C1969.0 1195.0 1968.8 1313.0 1969.0 1350.0C1969.2 1387.0 1969.7 1374.3 1970.3 1386.0C1970.9 1397.7 1971.2 1410.5 1972.5 1420.0C1973.8 1429.5 1975.0 1435.9 1978.0 1442.7C1981.0 1449.5 1984.8 1455.7 1990.7 1461.0C1996.6 1466.3 2005.9 1470.8 2013.4 1474.5C2021.0 1478.2 2026.6 1480.1 2036.0 1483.5C2045.4 1486.9 2058.7 1491.6 2070.0 1495.0C2081.3 1498.4 2090.8 1500.2 2104.0 1504.0C2117.2 1507.8 2136.2 1513.6 2149.4 1517.6C2162.6 1521.6 2175.1 1525.0 2183.4 1527.8C2191.7 1530.6 2195.5 1532.3 2199.3 1534.6C2203.1 1536.9 2206.0 1539.1 2206.0 1541.4C2206.0 1543.7 2203.1 1546.1 2199.3 1548.2C2195.5 1550.3 2191.7 1551.6 2183.4 1553.9C2175.1 1556.2 2162.6 1559.3 2149.4 1561.8C2136.2 1564.2 2119.1 1566.3 2104.0 1568.6C2088.9 1570.9 2073.8 1573.3 2058.7 1575.4C2043.6 1577.5 2024.7 1579.3 2013.4 1581.0C2002.1 1582.7 1996.8 1583.9 1990.7 1585.6C1984.6 1587.3 1980.2 1589.4 1977.0 1591.3C1973.8 1593.2 1972.7 1594.9 1971.4 1597.0C1970.1 1599.1 1969.4 1602.8 1969.0 1604.0Z" fill="#34495E" fill-opacity="0.62" stroke="none"/>
<path d="M1969.0 1164.0C1969.0 1195.0 1968.8 1313.0 1969.0 1350.0C1969.2 1387.0 1969.7 1374.3 1970.3 1386.0C1970.9 1397.7 1971.2 1410.5 1972.5 1420.0C1973.8 1429.5 1975.0 1435.9 1978.0 1442.7C1981.0 1449.5 1984.8 1455.7 1990.7 1461.0C1996.6 1466.3 2005.9 1470.8 2013.4 1474.5C2021.0 1478.2 2026.6 1480.1 2036.0 1483.5C2045.4 1486.9 2058.7 1491.6 2070.0 1495.0C2081.3 1498.4 2090.8 1500.2 2104.0 1504.0C2117.2 1507.8 2136.2 1513.6 2149.4 1517.6C2162.6 1521.6 2175.1 1525.0 2183.4 1527.8C2191.7 1530.6 2195.5 1532.3 2199.3 1534.6C2203.1 1536.9 2206.0 1539.1 2206.0 1541.4C2206.0 1543.7 2203.1 1546.1 2199.3 1548.2C2195.5 1550.3 2191.7 1551.6 2183.4 1553.9C2175.1 1556.2 2162.6 1559.3 2149.4 1561.8C2136.2 1564.2 2119.1 1566.3 2104.0 1568.6C2088.9 1570.9 2073.8 1573.3 2058.7 1575.4C2043.6 1577.5 2024.7 1579.3 2013.4 1581.0C2002.1 1582.7 1996.8 1583.9 1990.7 1585.6C1984.6 1587.3 1980.2 1589.4 1977.0 1591.3C1973.8 1593.2 1972.7 1594.9 1971.4 1597.0C1970.1 1599.1 1969.4 1602.8 1969.0 1604.0" fill="none" stroke="#34495E" stroke-width="5.2" stroke-linejoin="round"/>
<g stroke="#000" stroke-width="5.4" fill="none">
<rect x="312.4" y="54.4" width="1612.9" height="1602.2"/>
<path d="M503.3 1656.6V1630.7M503.3 54.4V80.3M693.0 1656.6V1630.7M693.0 54.4V80.3M882.8 1656.6V1630.7M882.8 54.4V80.3M1072.5 1656.6V1630.7M1072.5 54.4V80.3M1262.3 1656.6V1630.7M1262.3 54.4V80.3M1452.0 1656.6V1630.7M1452.0 54.4V80.3M1641.8 1656.6V1630.7M1641.8 54.4V80.3M1831.5 1656.6V1630.7M1831.5 54.4V80.3M312.4 1428.1H338.3M1925.3 1428.1H1899.4M312.4 1199.2H338.3M1925.3 1199.2H1899.4M312.4 970.3H338.3M1925.3 970.3H1899.4M312.4 741.5H338.3M1925.3 741.5H1899.4M312.4 512.6H338.3M1925.3 512.6H1899.4M312.4 283.7H338.3M1925.3 283.7H1899.4"/>
</g>
<g font-size="79.2">
<text x="315.0" y="1737.6" text-anchor="middle">1</text>
<text x="503.3" y="1737.6" text-anchor="middle">3</text>
<text x="693.0" y="1737.6" text-anchor="middle">5</text>
<text x="882.8" y="1737.6" text-anchor="middle">7</text>
<text x="1072.5" y="1737.6" text-anchor="middle">9</text>
<text x="1262.3" y="1737.6" text-anchor="middle">11</text>
<text x="1452.0" y="1737.6" text-anchor="middle">13</text>
<text x="1641.8" y="1737.6" text-anchor="middle">15</text>
<text x="1831.5" y="1737.6" text-anchor="middle">17</text>
<text x="285.3" y="1685.1" text-anchor="end">−0.8</text>
<text x="285.3" y="1456.2" text-anchor="end">−0.4</text>
<text x="285.3" y="1227.3" text-anchor="end">0.0</text>
<text x="285.3" y="998.4" text-anchor="end">0.4</text>
<text x="285.3" y="769.6" text-anchor="end">0.8</text>
<text x="285.3" y="540.7" text-anchor="end">1.2</text>
<text x="285.3" y="311.8" text-anchor="end">1.6</text>
<text x="285.3" y="82.9" text-anchor="end">2.0</text>
</g>
<text font-size="79.2" x="1119.5" y="1859.3" text-anchor="middle">R (<tspan font-style="italic">Å</tspan>)</text>
<text font-size="79.2" transform="translate(82.3 855.4) rotate(-90)" text-anchor="middle">Relative potential energy (eV)</text>
<g font-size="65.4">
<circle cx="1543.8" cy="1386.1" r="7.2" fill="#FDC20F"/>
<text x="1660.3" y="1402.3">1000 K</text>
<circle cx="1543.8" cy="1476.4" r="7.2" fill="#BF1B4B"/>
<text x="1660.3" y="1494.9">342 K</text>
<circle cx="1543.8" cy="1568.3" r="7.2" fill="#34495E"/>
<text x="1660.3" y="1585.1">200 K</text>
</g>
</svg></body></html>
